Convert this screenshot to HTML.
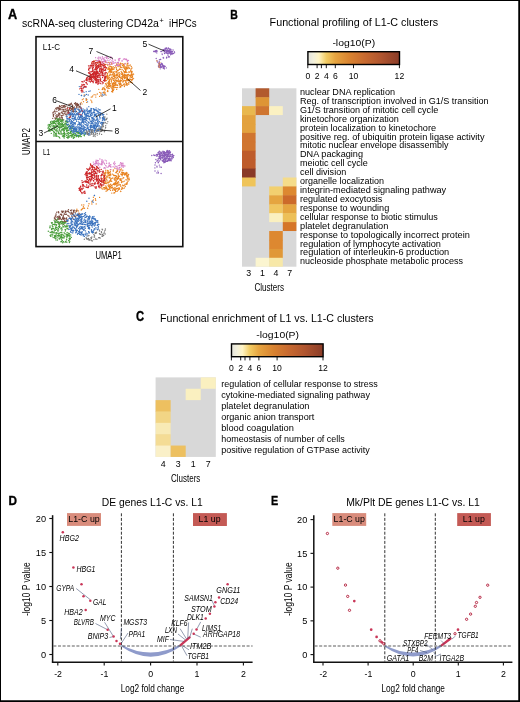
<!DOCTYPE html>
<html><head><meta charset="utf-8"><style>
html,body{margin:0;padding:0;background:#fff;}
svg{display:block;font-family:"Liberation Sans", sans-serif;will-change:transform;}
</style></head><body>
<svg width="520" height="702" viewBox="0 0 520 702">
<rect width="520" height="702" fill="#fff"/>
<rect x="0.5" y="0.5" width="518.5" height="700.5" fill="none" stroke="#000" stroke-width="1"/>
<rect x="518.5" y="0" width="1.5" height="702" fill="#000"/>
<rect x="0" y="700.5" width="520" height="1.5" fill="#000"/>
<text x="7.90" y="18.70" font-size="13.8" textLength="9.20" lengthAdjust="spacingAndGlyphs" font-weight="bold" fill="#000" stroke="#000" stroke-width="0.35">A</text>
<text x="22.00" y="26.70" font-size="10" textLength="136.90" lengthAdjust="spacingAndGlyphs">scRNA-seq clustering CD42a</text>
<text x="159.60" y="22.60" font-size="7.2" textLength="4.20" lengthAdjust="spacingAndGlyphs">+</text>
<text x="169.00" y="26.70" font-size="10" textLength="27.60" lengthAdjust="spacingAndGlyphs">iHPCs</text>
<path d="M73.0 110.6h0M62.9 119.4h0M54.7 110.1h0M66.5 114.2h0M58.7 108.5h0M68.9 104.3h0M56.4 108.1h0M70.7 115.3h0M71.1 104.2h0M62.3 115.4h0M72.2 106.5h0M58.5 114.2h0M70.4 110.6h0M76.1 105.0h0M76.1 108.2h0M58.6 108.5h0M69.8 109.4h0M52.7 118.3h0M65.9 114.3h0M62.3 118.7h0M59.7 109.5h0M60.8 118.8h0M59.6 106.3h0M69.1 104.9h0M55.9 118.2h0M58.2 108.2h0M73.4 109.9h0M77.1 105.6h0M76.7 106.5h0M58.3 120.1h0M66.2 104.8h0M63.4 107.1h0M78.6 105.1h0M60.0 117.5h0M69.7 108.7h0M57.4 119.1h0M55.2 113.6h0M62.6 107.7h0M61.9 109.6h0M57.3 108.1h0M72.1 109.7h0M74.3 106.9h0M72.8 107.1h0M62.2 109.9h0M72.5 105.5h0M73.7 107.9h0M56.1 118.5h0M75.3 103.9h0M72.6 111.4h0M65.9 112.0h0M75.6 102.7h0M61.2 112.6h0M69.7 107.6h0M64.9 106.8h0M59.0 107.2h0M62.1 119.5h0M61.7 117.4h0M57.0 114.6h0M63.9 106.8h0M58.1 115.7h0M62.1 111.7h0M55.7 115.8h0M55.3 111.9h0M72.5 107.8h0M53.4 116.5h0M58.8 113.3h0M58.0 116.2h0M62.7 105.8h0M63.0 113.7h0M70.3 113.4h0M67.9 112.4h0M70.2 104.0h0M65.9 106.3h0M76.5 111.5h0M67.9 111.1h0M80.1 106.5h0M69.8 109.4h0M63.6 111.0h0M77.1 103.3h0M62.2 113.0h0M71.7 109.4h0M74.1 111.4h0M63.2 113.8h0M70.1 110.3h0M55.8 118.8h0M68.0 107.5h0M59.9 113.7h0M70.3 104.5h0M76.7 104.9h0M55.2 118.2h0M76.4 105.2h0M60.4 109.7h0M58.7 107.7h0M57.0 117.2h0M56.0 108.2h0M74.5 103.5h0M55.6 119.2h0M58.7 110.3h0M56.0 118.1h0M61.0 115.6h0M61.7 105.6h0M77.6 104.6h0M73.0 110.1h0M79.1 109.4h0M58.9 119.0h0M56.8 109.6h0M65.1 109.3h0M73.0 108.5h0M58.9 112.9h0M63.9 106.8h0M61.7 116.0h0M71.4 109.1h0M67.2 110.0h0M64.3 105.4h0M65.9 110.8h0M61.5 107.7h0M62.3 117.4h0M54.8 111.4h0M57.3 107.3h0M63.7 105.8h0M72.2 104.9h0M71.4 103.2h0M63.2 106.1h0M80.4 107.6h0M72.2 109.7h0M53.4 114.8h0M70.7 107.6h0M76.3 103.9h0M68.2 113.3h0M70.9 108.4h0M76.6 106.9h0M64.9 107.7h0M67.1 114.2h0M76.1 104.6h0M53.8 111.9h0M77.1 107.2h0M72.2 108.5h0M63.1 119.9h0M53.4 115.3h0M53.0 113.8h0M59.2 108.1h0M59.5 105.7h0M59.7 114.2h0M79.3 106.6h0M59.8 109.0h0M56.8 114.9h0M58.1 119.7h0M80.3 104.7h0M57.3 116.4h0M72.7 105.7h0M59.5 117.1h0M67.7 107.2h0M62.6 119.3h0M56.9 111.5h0M56.6 116.3h0M63.7 111.6h0M59.7 119.8h0M60.7 106.3h0M53.0 112.5h0M68.5 111.2h0M63.3 109.4h0M64.0 110.1h0M59.9 114.3h0M80.3 103.3h0M71.7 114.3h0M59.5 113.7h0M73.6 109.9h0M72.8 108.2h0M59.1 115.3h0M66.3 115.9h0M68.7 112.0h0M56.8 118.0h0M78.4 104.5h0M77.9 105.5h0M55.7 108.7h0M64.7 105.7h0M72.8 111.2h0M75.6 105.1h0M68.1 107.6h0M58.9 113.4h0M74.4 108.3h0M77.4 103.7h0M58.8 109.8h0M65.9 109.1h0M65.2 114.1h0M64.6 113.2h0M63.7 115.1h0M75.0 109.7h0M67.0 110.7h0M64.8 111.7h0M73.5 111.9h0M54.9 117.9h0M53.8 114.6h0M53.3 115.8h0M79.0 106.2h0M60.6 108.1h0M68.6 110.7h0M78.9 107.7h0M68.3 109.8h0" stroke="#7e4c40" stroke-width="1.32" stroke-linecap="round" fill="none"/>
<path d="M60.6 121.0h0M69.4 125.7h0M50.3 127.0h0M64.8 135.1h0M71.6 137.0h0M53.7 121.5h0M55.1 129.4h0M50.7 121.7h0M59.9 130.1h0M78.4 133.0h0M68.2 135.3h0M64.7 134.0h0M50.2 130.8h0M74.1 129.8h0M67.2 131.9h0M63.8 131.7h0M55.9 120.8h0M52.6 123.9h0M50.5 126.8h0M79.1 136.2h0M62.4 135.9h0M55.3 123.5h0M48.3 127.1h0M67.8 130.4h0M83.0 133.1h0M64.0 126.7h0M56.4 121.5h0M53.7 125.6h0M57.9 125.3h0M66.3 128.0h0M61.6 123.1h0M69.0 137.2h0M59.0 126.4h0M68.4 134.2h0M80.9 133.5h0M57.1 128.7h0M49.7 124.7h0M57.1 123.1h0M72.3 135.7h0M73.8 134.7h0M82.6 133.2h0M54.8 135.0h0M63.6 136.9h0M54.3 120.5h0M55.0 134.7h0M61.8 129.3h0M67.2 137.5h0M58.1 124.8h0M59.3 127.5h0M60.8 126.7h0M63.7 136.6h0M66.2 121.8h0M55.0 126.9h0M59.9 128.2h0M52.7 129.9h0M70.2 133.1h0M70.6 128.2h0M64.2 129.1h0M75.2 135.6h0M69.7 136.9h0M53.6 127.2h0M51.7 130.4h0M54.3 132.3h0M64.7 127.9h0M54.2 126.8h0M56.0 124.4h0M69.9 127.1h0M73.6 129.1h0M53.6 123.7h0M57.6 121.3h0M70.2 132.4h0M73.4 134.9h0M64.3 124.5h0M58.3 120.6h0M53.2 121.5h0M60.4 123.8h0M67.3 121.8h0M56.0 127.6h0M66.6 135.4h0M61.3 134.1h0M64.1 125.2h0M51.3 133.4h0M59.0 123.6h0M54.4 128.6h0M60.8 125.3h0M66.6 128.9h0M52.2 126.2h0M59.4 122.4h0M76.4 130.2h0M63.6 124.7h0M76.8 131.4h0M76.5 135.1h0M67.9 133.9h0M70.1 135.3h0M54.6 126.1h0M68.9 130.1h0M77.7 133.2h0M51.4 123.1h0M66.2 125.9h0M54.2 122.7h0M50.5 122.7h0M67.7 127.5h0M50.0 125.9h0M65.8 124.9h0M57.0 130.4h0M57.2 136.2h0M48.3 128.2h0M53.5 126.1h0M63.4 126.0h0M62.1 126.9h0M59.4 137.5h0M63.4 136.7h0M72.9 136.3h0M76.7 131.3h0M66.0 126.0h0M69.7 126.4h0M56.0 136.4h0M65.6 121.2h0M61.5 120.4h0M69.9 135.4h0M63.7 129.1h0M51.3 123.6h0M67.7 130.5h0M58.3 123.5h0M84.4 135.2h0M63.8 135.8h0M51.9 121.1h0M72.1 133.8h0M52.9 122.5h0M67.9 130.2h0M60.8 127.2h0M58.4 122.9h0M59.3 118.5h0M63.7 122.1h0M61.1 126.2h0M78.0 133.0h0M56.5 134.9h0M67.3 122.5h0M73.9 137.7h0M51.9 125.3h0M62.7 124.8h0M59.4 125.1h0M62.3 134.1h0M49.6 128.6h0M56.0 125.4h0M64.0 134.3h0M76.3 136.7h0M58.3 133.0h0M58.9 127.3h0M62.5 123.5h0M79.1 132.1h0M60.7 125.2h0M56.1 133.5h0M49.2 130.8h0M59.2 120.2h0M56.8 125.9h0M76.4 134.9h0M69.8 125.2h0M58.6 124.1h0M67.9 122.0h0M67.1 133.5h0M50.5 124.3h0M58.7 133.7h0M71.1 131.2h0M53.9 123.0h0M49.0 124.4h0M60.6 121.5h0M63.3 129.0h0M54.4 132.4h0M59.9 138.1h0M63.4 125.0h0M62.2 121.7h0M63.5 135.4h0M66.6 121.5h0M73.3 136.9h0M62.8 128.7h0M68.7 137.2h0M57.6 120.1h0M64.0 134.9h0M56.3 126.1h0M53.1 121.8h0M50.2 129.3h0M70.7 128.8h0M63.6 130.3h0M66.2 127.1h0M67.0 121.8h0M65.5 121.8h0M54.0 127.2h0M75.9 133.8h0M67.8 125.6h0M76.6 136.2h0M67.4 137.2h0M78.6 137.1h0M67.6 137.1h0M67.9 124.6h0M74.6 137.1h0M52.6 128.4h0M71.8 137.1h0M61.8 133.7h0M70.5 131.5h0M70.4 126.7h0M53.6 122.6h0M49.2 125.6h0M56.7 129.7h0M72.9 128.7h0M58.5 121.6h0M80.8 134.2h0M48.6 130.9h0M58.7 136.6h0M64.8 123.3h0M49.5 129.1h0M55.3 130.3h0M61.4 124.5h0M79.1 132.6h0M57.1 120.4h0M60.8 132.2h0M69.5 126.2h0M59.0 131.0h0M58.4 121.4h0M57.0 135.8h0M65.8 133.9h0M64.5 132.5h0M57.8 131.3h0M61.7 121.0h0M74.2 130.0h0M50.4 130.9h0M80.4 136.6h0M52.8 122.4h0M79.6 133.7h0M61.1 126.7h0M58.9 132.9h0M48.9 126.8h0M61.2 132.2h0M47.8 128.1h0M54.9 129.0h0M59.1 121.8h0M53.7 131.5h0M74.3 133.6h0M63.9 125.9h0M57.0 123.0h0M62.9 136.6h0M68.5 132.5h0M62.3 125.7h0M73.7 133.7h0M53.7 127.1h0M55.5 123.1h0M54.5 121.8h0M61.9 121.8h0M53.6 125.8h0M56.3 131.2h0M63.3 133.4h0M72.8 128.1h0M64.3 132.7h0M69.7 133.4h0M75.8 135.0h0M60.9 131.2h0M77.6 132.2h0M64.1 126.9h0M74.2 137.7h0M67.7 138.0h0M55.4 133.6h0M51.5 129.5h0M68.2 130.4h0M64.2 138.1h0M64.6 134.7h0M61.9 119.8h0M48.4 127.0h0M62.0 124.4h0M56.5 134.6h0M53.8 133.0h0M66.4 131.0h0M62.3 130.0h0M65.9 124.0h0M62.4 123.4h0M59.0 123.7h0M64.4 130.5h0M84.4 135.8h0M83.2 134.8h0M52.6 122.0h0M62.5 120.6h0M70.8 132.8h0M78.4 135.9h0M67.3 133.6h0M57.2 120.9h0M65.4 121.1h0M70.0 135.6h0M65.6 128.5h0M62.9 126.5h0M73.3 131.1h0M73.3 138.4h0M67.9 127.8h0M74.9 131.7h0M61.3 127.5h0M55.9 127.2h0M65.9 123.5h0M72.9 134.6h0M59.2 129.2h0M50.9 124.2h0M73.9 133.6h0M71.4 130.0h0M77.3 136.1h0M79.0 133.8h0M59.7 127.2h0M73.4 137.2h0M48.0 125.1h0M63.8 119.8h0M75.3 135.1h0M70.8 132.8h0M49.3 131.0h0M60.9 133.9h0M61.6 130.1h0M53.5 134.9h0M64.1 133.6h0M74.5 135.5h0M84.7 134.6h0M64.0 136.7h0M71.3 135.7h0M65.0 128.8h0M78.5 135.4h0M79.9 133.2h0M60.6 119.5h0M56.6 133.1h0M70.9 131.9h0M58.4 132.6h0M70.9 135.7h0M66.6 130.4h0M54.9 132.8h0M63.8 128.7h0M52.7 130.5h0M84.7 132.2h0M58.3 119.2h0M68.1 136.1h0M72.1 127.2h0M57.3 128.3h0M67.2 120.9h0M59.3 124.5h0M77.0 131.0h0M76.6 136.6h0M71.2 133.7h0M57.9 120.7h0M57.6 120.9h0M81.4 136.6h0M65.9 124.4h0M56.8 118.5h0M54.0 136.3h0M54.8 123.1h0M54.4 129.2h0M66.5 124.3h0M52.5 123.8h0M56.0 126.7h0M55.3 133.3h0M71.3 128.5h0M71.8 131.7h0M56.2 118.8h0M80.0 135.6h0M55.4 135.2h0M63.3 130.1h0M66.0 129.2h0M78.7 136.4h0M64.1 133.7h0M67.7 128.8h0M55.5 121.3h0M48.7 129.9h0M81.4 132.7h0M67.1 128.5h0M62.8 120.2h0M54.2 129.3h0M63.6 126.0h0M63.5 136.6h0M56.1 125.5h0M79.2 135.5h0M52.0 128.2h0M57.6 126.2h0M65.2 128.3h0M85.7 133.5h0M79.0 135.9h0M68.6 136.5h0M68.6 126.7h0M60.7 131.7h0M58.4 127.4h0M53.2 121.3h0M60.1 123.4h0M70.3 132.1h0M65.4 128.7h0M60.4 123.7h0M63.6 130.0h0M69.1 129.8h0M59.8 133.9h0M50.1 126.3h0M53.7 122.4h0M53.9 125.6h0M72.0 134.6h0M76.3 132.4h0M78.2 132.3h0M66.7 137.3h0M77.5 135.4h0M65.5 126.9h0M62.9 129.7h0M77.4 135.3h0M56.1 124.9h0M80.6 134.9h0M64.8 136.5h0M70.7 127.6h0M68.1 138.2h0" stroke="#4a9e3c" stroke-width="1.32" stroke-linecap="round" fill="none"/>
<path d="M88.8 116.9h0M102.3 122.7h0M86.2 118.3h0M76.4 130.0h0M95.9 123.9h0M83.9 131.6h0M91.0 108.5h0M89.9 111.9h0M96.7 120.2h0M77.6 112.8h0M101.9 113.1h0M82.1 126.7h0M93.5 111.9h0M77.0 113.4h0M88.3 111.2h0M99.2 109.9h0M80.6 108.8h0M75.2 122.6h0M94.2 118.8h0M100.0 109.7h0M102.4 122.3h0M95.4 120.8h0M84.2 130.5h0M76.8 131.4h0M88.5 135.0h0M91.2 109.2h0M76.1 128.6h0M77.4 109.1h0M86.9 128.5h0M68.0 121.9h0M70.8 123.6h0M92.5 113.0h0M79.4 129.9h0M85.8 122.4h0M71.8 121.9h0M73.8 118.7h0M74.1 131.2h0M84.2 128.6h0M75.2 128.2h0M66.7 118.0h0M87.6 113.1h0M93.7 109.8h0M90.3 125.8h0M97.6 119.9h0M102.4 118.7h0M75.4 127.1h0M79.5 111.5h0M84.9 119.6h0M95.5 125.5h0M99.7 129.4h0M80.5 111.6h0M95.7 109.8h0M101.7 126.8h0M89.4 118.3h0M100.6 115.3h0M75.8 130.7h0M82.5 113.8h0M91.8 127.4h0M97.9 125.6h0M81.1 108.8h0M79.8 122.7h0M97.1 118.4h0M78.3 114.1h0M90.5 115.6h0M92.7 118.5h0M71.8 126.3h0M73.7 114.6h0M73.7 130.9h0M82.0 120.8h0M98.3 111.7h0M83.7 130.0h0M70.4 121.9h0M81.4 132.2h0M67.5 124.9h0M79.7 125.0h0M86.9 125.4h0M81.2 134.4h0M91.6 122.9h0M100.7 127.1h0M79.9 110.7h0M71.5 123.3h0M81.0 127.4h0M95.1 115.1h0M96.2 126.9h0M93.5 126.6h0M88.5 129.4h0M71.7 121.2h0M94.6 112.2h0M79.1 117.5h0M73.7 115.6h0M78.8 119.6h0M81.8 117.8h0M72.8 132.6h0M90.6 129.0h0M94.6 119.9h0M94.4 115.9h0M86.3 114.9h0M97.3 124.0h0M77.0 114.3h0M94.4 126.4h0M69.4 114.5h0M90.8 125.7h0M79.5 117.5h0M72.5 131.0h0M92.4 132.4h0M67.4 118.6h0M91.3 123.6h0M76.9 129.3h0M71.9 125.0h0M94.2 128.8h0M70.9 125.8h0M75.8 108.5h0M76.7 113.4h0M97.1 116.9h0M99.5 116.2h0M72.0 115.1h0M88.7 129.7h0M69.9 113.1h0M79.1 123.9h0M74.4 129.6h0M66.9 121.2h0M90.0 126.8h0M86.1 124.6h0M103.6 116.3h0M83.7 111.2h0M93.3 120.1h0M82.0 116.0h0M86.4 120.2h0M72.8 114.2h0M94.5 127.2h0M94.0 125.1h0M72.9 124.6h0M80.0 131.3h0M70.2 128.9h0M84.7 130.0h0M88.0 121.7h0M104.1 118.7h0M97.6 130.4h0M74.3 123.4h0M98.1 128.9h0M101.1 122.2h0M89.4 131.6h0M74.5 113.6h0M70.3 123.8h0M83.1 122.6h0M83.1 109.0h0M83.9 117.4h0M75.1 124.5h0M89.4 110.8h0M75.2 117.0h0M90.9 127.7h0M75.5 133.7h0M102.6 124.6h0M96.4 110.0h0M73.6 130.0h0M71.1 128.0h0M86.8 129.8h0M89.3 129.3h0M87.2 115.3h0M98.0 129.6h0M91.0 113.1h0M103.8 122.5h0M94.6 130.4h0M80.3 115.3h0M89.6 134.0h0M92.3 123.6h0M81.1 123.0h0M95.5 128.5h0M91.4 131.1h0M83.2 127.2h0M80.1 116.6h0M95.3 115.4h0M79.0 127.2h0M97.8 122.6h0M77.7 125.0h0M85.3 124.8h0M81.3 130.9h0M69.2 114.4h0M72.5 118.5h0M95.0 128.4h0M75.0 114.2h0M88.2 124.7h0M77.9 109.1h0M80.6 111.7h0M76.8 128.6h0M77.6 117.9h0M94.8 109.7h0M98.9 112.6h0M92.5 114.9h0M91.4 123.1h0M103.8 117.2h0M80.8 127.9h0M75.5 117.3h0M75.5 129.7h0M95.9 113.8h0M80.5 116.8h0M91.8 130.4h0M82.1 110.7h0M84.7 112.7h0M80.8 119.9h0M68.8 112.6h0M100.1 110.1h0M75.6 111.7h0M69.8 114.3h0M93.9 109.5h0M73.8 125.7h0M104.3 120.6h0M92.1 121.5h0M94.9 122.7h0M90.2 126.0h0M99.7 117.2h0M75.0 123.5h0M83.4 112.1h0M88.0 133.6h0M73.6 120.3h0M84.8 134.2h0M99.1 112.8h0M78.0 119.2h0M67.5 118.5h0M75.2 119.4h0M72.5 114.9h0M86.5 123.1h0M74.5 111.6h0M81.3 130.6h0M103.8 114.4h0M78.5 115.0h0M83.0 120.9h0M91.8 121.7h0M92.0 122.1h0M88.0 111.8h0M74.3 117.2h0M68.4 127.1h0M92.8 129.3h0M92.1 126.4h0M75.5 119.0h0M82.3 133.4h0M94.1 116.3h0M71.1 113.9h0M82.5 119.2h0M102.1 123.8h0M82.9 112.1h0M91.2 112.8h0M95.3 129.5h0M73.5 128.7h0M98.7 122.8h0M89.6 112.8h0M94.3 114.8h0M73.2 126.4h0M76.4 126.8h0M78.8 122.2h0M84.9 114.5h0M90.2 127.4h0M94.0 116.7h0M102.5 122.8h0M92.9 117.4h0M97.7 129.7h0M73.8 125.7h0M74.6 109.2h0M71.1 112.4h0M90.6 114.5h0M87.7 127.3h0M74.0 114.6h0M90.1 132.5h0M92.0 114.8h0M95.7 128.5h0M96.5 116.7h0M68.3 124.1h0M87.1 110.9h0M84.5 113.2h0M86.1 116.5h0M96.7 110.5h0M84.6 113.9h0M78.1 119.4h0M81.7 118.9h0M89.2 110.4h0M70.6 119.7h0M96.5 119.6h0M68.0 114.9h0M72.6 121.6h0M72.3 128.5h0M71.1 113.9h0M77.1 126.8h0M84.0 133.2h0M84.1 126.6h0M69.9 130.0h0M76.3 120.1h0M99.7 117.0h0M78.3 113.0h0M100.6 123.1h0M90.1 131.8h0M98.9 130.3h0M80.4 117.2h0M74.1 132.7h0M100.6 129.3h0M94.5 127.6h0M91.7 117.5h0M87.2 116.0h0M99.1 130.3h0M93.5 125.5h0M86.8 120.7h0M96.6 131.7h0M75.6 110.2h0M97.2 113.6h0M94.2 112.9h0M78.6 124.2h0M100.5 128.5h0M87.3 109.6h0M85.1 121.2h0M91.5 113.4h0M66.5 123.9h0M81.6 109.7h0M96.9 118.0h0M98.6 112.0h0M82.5 116.4h0M73.4 116.4h0M72.4 122.3h0M97.6 111.9h0M94.7 132.1h0M86.8 131.0h0M85.6 132.7h0M89.8 129.7h0M75.4 115.2h0M84.8 109.9h0M93.9 128.3h0M85.1 111.3h0M73.7 122.4h0M93.5 127.9h0M102.9 119.5h0M97.4 126.4h0M79.1 128.7h0M71.9 118.2h0M72.6 113.5h0M78.6 121.8h0M81.7 134.1h0M84.1 112.5h0M81.2 117.3h0M93.6 119.0h0M88.8 106.7h0M80.3 124.3h0M82.0 115.2h0M72.3 116.5h0M88.2 127.1h0M87.5 118.6h0M66.3 116.2h0M79.7 132.4h0M101.6 124.9h0M81.2 123.5h0M79.5 118.9h0M86.4 115.8h0M72.6 126.3h0M72.2 113.7h0M95.8 126.3h0M88.6 133.3h0M82.9 111.4h0M81.7 109.1h0M89.4 134.1h0M93.8 124.8h0M72.3 122.6h0M82.9 118.4h0M93.6 112.4h0M80.3 127.8h0M91.5 108.6h0M89.0 119.1h0M80.2 117.7h0M101.8 123.0h0M82.0 126.3h0M97.6 121.4h0M81.2 125.2h0M83.2 133.2h0M89.6 116.3h0M97.6 129.7h0M78.3 128.9h0M71.7 130.8h0M70.6 127.6h0M89.0 118.9h0M96.2 110.4h0M99.8 118.9h0M95.0 125.5h0M93.8 112.8h0M82.4 131.8h0M83.0 122.0h0M82.6 131.8h0M84.4 110.2h0M93.2 108.7h0M94.4 110.5h0M76.4 129.8h0M83.9 119.2h0M79.5 133.2h0M98.0 111.2h0M79.7 111.5h0M96.9 113.9h0M102.3 123.9h0M90.9 121.4h0M97.3 125.6h0M85.3 129.5h0M71.7 125.8h0M71.8 111.2h0M75.5 117.0h0M89.4 111.4h0M72.0 123.1h0M87.7 116.0h0M70.3 114.5h0M79.6 132.8h0M99.0 126.3h0M77.7 135.5h0M87.2 112.9h0M98.0 124.4h0M68.4 118.9h0M87.0 108.2h0M89.3 129.9h0M74.1 130.9h0M75.9 131.4h0M103.5 118.2h0M70.3 128.1h0M82.0 124.9h0M91.3 111.0h0M80.0 132.3h0M71.2 110.8h0M71.5 120.7h0M82.3 122.2h0M82.5 113.3h0M98.6 114.3h0M81.1 116.1h0M91.4 130.4h0M102.0 124.1h0M69.9 116.8h0M81.1 115.6h0M75.3 112.0h0M101.1 126.8h0M99.4 125.8h0M68.1 121.4h0M94.5 126.9h0M91.9 118.9h0M74.7 118.5h0M78.8 114.2h0M81.3 126.3h0M70.1 122.1h0M69.5 121.1h0M92.2 120.4h0M84.1 111.2h0M91.2 125.6h0M97.1 110.6h0M88.1 127.9h0M80.0 128.5h0M70.1 126.6h0M72.0 130.9h0M81.0 125.7h0M80.3 131.3h0M100.5 123.3h0M103.1 123.5h0M84.3 117.1h0M88.8 114.1h0M85.4 118.4h0M86.8 113.9h0M96.4 122.8h0M85.7 118.2h0M92.6 129.8h0M74.0 120.1h0M79.9 127.6h0M74.6 128.0h0M90.7 126.5h0M102.7 120.3h0M97.1 113.8h0M96.4 127.5h0M76.2 119.4h0M82.5 120.3h0M72.9 113.0h0M99.9 115.4h0M82.7 112.0h0M82.7 117.9h0M66.7 118.0h0M80.0 128.9h0M91.2 112.6h0M90.1 116.5h0M100.7 113.3h0M78.1 124.5h0M70.5 113.7h0M81.4 133.2h0M75.4 131.6h0M81.0 107.3h0M74.7 128.8h0M68.2 118.6h0M95.7 130.2h0M97.0 111.2h0M69.5 120.0h0M79.9 119.1h0M93.7 121.4h0M85.0 121.7h0M73.8 131.8h0M89.9 123.0h0M103.8 118.0h0M86.1 117.3h0M79.7 118.6h0M81.2 111.0h0M83.5 119.5h0M83.1 130.8h0M91.9 121.0h0M72.6 124.5h0M90.8 110.8h0M85.5 115.8h0M85.1 124.6h0M91.6 121.6h0M87.2 113.8h0M87.6 128.4h0M91.3 110.1h0M94.5 114.3h0M99.5 121.7h0M82.8 129.4h0M100.0 112.5h0M67.2 116.6h0M90.5 111.0h0M77.8 131.8h0M104.6 118.9h0M95.6 114.3h0M87.7 123.8h0M93.4 119.4h0M77.2 127.3h0M93.1 118.6h0M102.4 117.3h0M94.7 131.6h0M79.2 126.8h0M87.0 111.2h0M86.0 129.8h0M80.1 129.8h0M90.2 121.1h0M75.5 119.3h0M75.1 129.8h0M90.4 110.2h0M99.1 127.9h0M83.4 125.6h0M69.6 118.6h0M74.3 131.3h0M73.4 123.8h0M85.8 119.3h0M95.4 122.8h0M96.3 115.3h0M87.8 125.6h0M68.4 124.6h0M88.3 128.1h0M75.7 109.9h0M84.8 114.8h0M80.4 128.6h0M78.5 109.3h0M81.6 133.1h0M85.0 119.8h0M98.6 120.9h0M100.3 117.8h0M84.0 123.8h0M80.4 131.4h0M90.8 124.1h0M70.9 114.6h0M73.5 124.2h0M66.5 120.1h0M78.9 110.4h0M95.7 115.4h0M71.8 127.9h0M79.8 112.7h0M81.6 110.6h0M103.2 118.0h0M103.0 115.2h0M81.2 128.3h0M67.9 119.3h0M83.1 128.5h0M87.4 118.5h0M75.1 122.7h0M83.0 133.1h0M93.9 108.9h0M78.3 127.0h0M71.3 120.3h0M69.2 112.6h0M97.9 119.2h0M95.4 109.8h0M89.4 131.1h0M92.9 122.9h0M84.9 112.6h0M88.6 116.3h0M85.8 114.0h0M85.2 127.5h0M102.0 114.7h0M75.7 129.4h0M98.5 123.2h0M72.5 114.1h0M84.7 127.4h0M69.5 119.6h0M102.8 118.3h0M92.7 127.1h0M88.7 122.8h0M104.8 119.7h0M95.9 126.5h0M100.4 114.0h0M78.5 116.3h0M99.0 125.9h0M88.0 113.3h0M72.2 128.1h0M78.6 131.0h0M84.1 117.8h0M69.3 126.4h0M76.1 115.0h0M71.8 130.7h0M96.4 126.0h0M71.9 122.7h0M72.5 126.2h0M91.4 123.2h0M88.6 116.0h0M69.6 115.1h0M92.1 125.1h0M83.4 119.4h0M70.4 123.9h0M92.8 132.0h0M87.1 115.8h0M83.1 128.8h0M69.6 119.8h0M81.0 134.1h0M96.4 123.9h0M84.7 117.6h0M79.0 123.9h0M81.9 128.7h0M98.5 123.3h0M80.8 114.3h0M86.5 117.6h0M70.2 126.6h0M71.7 122.4h0M96.1 107.9h0M77.3 131.4h0M75.3 123.5h0M95.2 124.8h0M102.8 122.4h0M83.7 120.9h0M89.8 119.8h0M91.3 129.8h0M74.0 126.5h0M79.7 123.1h0M102.4 114.0h0M79.8 130.0h0M85.8 133.9h0M81.6 122.2h0M79.2 111.9h0M94.0 124.0h0M86.2 110.2h0M98.7 113.6h0M98.2 108.9h0M91.2 130.1h0M77.7 125.0h0M88.0 115.6h0M71.6 130.6h0M93.9 126.5h0M96.2 116.0h0M96.2 119.8h0M70.4 116.6h0M69.6 128.4h0M68.6 113.0h0M82.5 119.7h0M75.2 127.9h0M87.1 126.9h0M77.4 114.6h0M79.2 114.4h0M85.9 117.0h0M83.8 122.5h0M75.0 110.1h0M72.8 119.1h0M81.3 129.9h0M70.7 123.4h0M91.2 115.7h0M84.5 119.4h0M102.4 120.3h0M102.3 124.4h0M98.2 130.6h0M73.7 128.0h0M73.6 129.0h0M79.5 118.1h0M102.6 124.9h0M68.1 121.2h0M103.8 119.1h0M88.6 122.4h0M76.7 121.4h0M88.2 113.1h0M90.2 90.9h0M79.3 86.6h0M86.5 94.4h0M83.3 87.3h0M88.9 91.4h0M85.1 87.3h0M86.2 91.7h0M88.2 95.0h0M87.6 101.8h0M86.4 98.9h0M84.0 96.1h0M84.3 96.2h0M81.3 95.5h0M85.1 95.2h0M81.6 95.5h0M79.0 94.4h0M84.0 92.3h0M102.8 92.8h0M104.9 94.3h0M102.0 96.0h0M102.2 94.7h0M103.8 95.2h0" stroke="#3a72be" stroke-width="1.32" stroke-linecap="round" fill="none"/>
<path d="M93.3 130.7h0M99.4 129.8h0M103.6 122.9h0M103.2 126.2h0M91.0 132.4h0M104.9 130.5h0M92.1 130.0h0M107.8 121.7h0M88.8 130.7h0M101.7 128.0h0M102.2 127.1h0M91.7 133.1h0M101.8 128.8h0M96.0 133.8h0M105.8 119.6h0M102.1 130.8h0M102.7 126.0h0M87.9 133.2h0M96.8 129.1h0M95.1 136.5h0M99.6 133.1h0M103.1 123.6h0M93.3 136.3h0M104.1 117.2h0M87.9 131.5h0M102.6 130.5h0M95.8 130.6h0M92.8 131.7h0M86.5 132.2h0M101.1 129.7h0M105.3 122.5h0M106.6 119.3h0M105.4 128.1h0M95.1 134.8h0M87.9 134.1h0M105.1 123.1h0M97.4 133.4h0M106.9 123.5h0M101.5 131.4h0M99.0 131.3h0M104.3 131.5h0M101.0 129.3h0M105.7 127.2h0M96.1 130.3h0M100.5 131.4h0M91.1 130.5h0M86.2 131.0h0M90.7 134.1h0M95.5 132.6h0M93.1 134.6h0M105.7 125.6h0M91.6 131.4h0M95.3 134.2h0M101.6 134.4h0M89.9 135.3h0M87.5 134.1h0M89.4 131.8h0M102.8 130.0h0M103.5 126.7h0M105.8 120.1h0M99.7 129.2h0M95.0 134.8h0M99.1 128.1h0M98.3 129.3h0M86.5 132.2h0M91.7 132.3h0M100.5 131.5h0M93.5 133.4h0M102.8 124.6h0M87.0 133.7h0M101.6 130.1h0M102.1 129.3h0M87.5 132.4h0M97.2 129.8h0M104.3 130.3h0M91.5 132.9h0M102.9 124.9h0M87.3 134.4h0M100.8 126.9h0M106.8 114.2h0M97.6 131.3h0M105.2 130.6h0M91.6 134.2h0M90.9 129.9h0M93.1 132.7h0M96.4 131.2h0M93.9 135.2h0M107.1 118.2h0M101.8 128.2h0M104.3 131.8h0M91.5 129.9h0M86.9 133.5h0M88.1 134.6h0M105.0 117.0h0M97.3 135.1h0M106.2 118.9h0M99.4 134.1h0M91.5 132.0h0" stroke="#7a7a7a" stroke-width="1.32" stroke-linecap="round" fill="none"/>
<path d="M167.8 53.2h0M168.0 53.5h0M164.3 51.6h0M164.6 51.2h0M164.9 50.3h0M167.5 51.2h0M166.6 47.9h0M164.1 50.7h0M171.8 52.3h0M168.8 51.8h0M166.5 53.2h0M165.8 52.2h0M173.2 53.3h0M171.1 51.9h0M168.6 50.5h0M171.5 53.5h0M169.4 49.2h0M166.1 51.5h0M170.8 52.1h0M170.0 52.9h0M170.0 49.2h0M164.5 53.5h0M166.0 48.5h0M165.8 52.9h0M171.0 49.4h0M173.0 49.8h0M169.0 49.9h0M169.7 52.1h0M163.9 49.5h0M174.6 52.7h0M165.4 49.8h0M167.7 53.5h0M168.4 47.8h0M167.8 53.8h0M168.9 50.3h0M166.3 48.7h0M173.2 50.1h0M166.7 51.9h0M172.4 53.2h0M166.5 50.6h0M174.3 51.6h0M167.5 51.2h0M165.5 48.7h0M164.3 51.9h0M165.9 51.8h0M170.3 53.8h0M168.2 53.3h0M167.4 50.8h0M169.6 51.1h0M167.9 51.2h0M170.6 54.8h0M168.9 51.7h0M169.9 51.8h0M170.7 49.9h0M172.4 51.4h0M170.3 51.4h0M168.9 50.1h0M167.0 48.5h0M168.5 48.3h0M169.0 50.8h0M166.7 52.1h0M169.7 50.7h0M163.9 50.8h0M168.8 48.4h0M164.4 49.1h0M167.5 50.3h0M167.3 49.8h0M171.5 51.5h0M167.1 49.2h0M169.1 53.2h0M170.4 52.7h0M165.3 48.1h0M172.7 54.0h0M170.0 53.2h0M164.7 50.6h0M170.4 49.1h0M171.2 50.9h0M168.0 51.9h0M171.5 54.0h0M165.8 50.3h0M173.6 53.4h0M169.6 49.1h0M169.2 52.5h0M155.7 51.2h0M157.1 51.3h0M156.8 52.9h0M155.9 51.2h0M155.3 50.7h0M156.4 51.2h0M155.0 51.8h0M153.9 51.1h0M155.9 51.3h0M154.2 51.3h0M155.9 51.8h0M156.6 50.3h0M157.1 51.0h0M153.6 51.6h0M161.9 51.6h0M160.9 51.5h0M162.8 49.9h0M163.3 50.3h0M163.0 49.6h0M166.8 57.7h0M163.3 58.0h0M166.6 57.1h0M163.6 58.0h0M168.0 55.6h0M163.2 57.5h0M166.5 58.0h0M169.5 56.9h0M168.0 54.3h0M169.0 56.7h0M162.1 53.8h0M162.2 54.5h0M168.4 57.0h0M163.4 65.3h0M159.7 66.8h0M163.7 68.2h0M160.1 66.4h0M164.2 67.6h0M160.1 66.7h0M164.8 66.4h0M160.4 65.0h0M163.9 66.8h0M164.8 66.3h0M161.2 64.0h0M163.7 67.1h0M160.0 64.1h0M159.9 67.4h0M166.3 67.9h0M162.7 66.4h0M164.4 68.9h0M162.5 64.5h0M162.2 63.8h0M161.6 67.3h0M165.2 66.4h0M160.7 65.9h0M158.6 66.9h0M163.7 66.6h0M161.4 66.3h0M160.3 67.4h0M159.9 65.6h0M163.5 67.7h0M160.2 68.8h0M162.4 63.8h0M164.1 67.9h0M164.5 65.9h0M160.7 66.0h0M161.5 63.9h0M161.2 67.0h0M162.2 64.1h0M158.3 62.8h0M163.7 68.4h0M158.4 66.0h0M162.4 63.9h0M158.9 64.0h0M161.6 63.2h0M162.4 65.3h0M162.9 65.9h0M159.4 65.2h0M161.4 64.3h0M162.2 67.8h0M157.4 61.9h0M160.7 59.5h0M157.0 60.6h0M159.4 62.9h0M159.3 59.8h0M160.2 59.3h0M156.2 58.5h0M159.2 61.4h0" stroke="#8a5cb8" stroke-width="1.32" stroke-linecap="round" fill="none"/>
<path d="M116.3 78.6h0M124.3 64.9h0M125.5 71.7h0M120.1 82.9h0M119.1 69.5h0M126.6 79.4h0M121.9 85.7h0M106.4 76.3h0M131.8 74.5h0M122.7 73.7h0M125.8 67.0h0M126.9 78.2h0M116.5 67.8h0M111.7 64.2h0M112.7 73.9h0M115.1 75.4h0M125.5 70.6h0M107.5 79.2h0M108.6 81.4h0M109.6 77.7h0M118.6 79.9h0M109.9 74.2h0M114.4 67.6h0M113.5 80.4h0M131.4 72.9h0M111.9 71.5h0M114.5 74.0h0M132.0 79.9h0M107.7 73.8h0M123.9 67.3h0M132.1 71.3h0M113.8 82.8h0M114.7 85.4h0M114.4 78.1h0M127.0 72.6h0M126.5 80.8h0M128.7 79.6h0M113.3 86.4h0M117.0 72.3h0M109.5 80.4h0M128.2 65.7h0M128.9 84.0h0M129.8 65.7h0M125.9 82.5h0M126.6 68.9h0M118.8 65.8h0M125.5 75.5h0M117.1 80.7h0M114.5 83.8h0M117.6 77.4h0M115.5 66.0h0M126.6 79.4h0M129.0 79.4h0M117.7 70.5h0M110.6 69.4h0M113.1 76.7h0M121.1 78.5h0M109.7 66.3h0M109.6 63.0h0M113.2 72.5h0M112.9 69.4h0M117.1 71.1h0M126.9 75.3h0M131.3 75.5h0M120.3 77.4h0M122.6 79.4h0M117.6 64.4h0M108.4 83.0h0M112.0 83.8h0M116.5 87.6h0M124.5 68.8h0M128.4 67.7h0M122.6 78.9h0M126.5 67.9h0M113.2 66.6h0M131.0 79.8h0M122.7 76.3h0M122.6 78.6h0M112.1 77.7h0M131.6 73.1h0M127.2 75.7h0M126.5 67.9h0M112.6 83.7h0M119.3 72.7h0M127.9 68.7h0M132.0 74.2h0M118.9 76.6h0M119.7 64.9h0M115.1 75.4h0M108.2 62.4h0M113.4 72.5h0M120.0 83.2h0M111.2 72.4h0M131.4 73.2h0M124.1 77.5h0M121.7 78.0h0M116.1 80.5h0M116.6 69.4h0M113.8 75.1h0M112.4 83.5h0M127.8 80.7h0M131.0 71.2h0M130.7 75.3h0M120.4 64.8h0M122.3 85.5h0M118.9 66.7h0M125.2 75.0h0M133.6 78.3h0M111.0 69.3h0M121.8 74.5h0M125.5 77.5h0M116.7 75.2h0M131.2 74.6h0M120.6 83.4h0M123.0 64.3h0M132.0 68.0h0M107.9 65.0h0M125.1 63.3h0M108.2 77.8h0M129.3 80.7h0M106.4 68.2h0M109.5 82.4h0M109.8 68.7h0M123.4 84.8h0M114.1 85.7h0M130.8 77.1h0M122.9 77.7h0M109.0 68.1h0M109.2 68.3h0M115.5 87.3h0M121.3 85.2h0M123.3 67.0h0M119.8 81.1h0M115.0 77.5h0M123.4 70.7h0M120.8 67.6h0M116.5 68.0h0M109.1 79.1h0M124.0 71.6h0M110.7 71.1h0M122.3 65.6h0M105.6 78.5h0M120.7 86.5h0M114.4 74.3h0M110.8 78.7h0M131.9 82.4h0M125.0 77.4h0M107.4 73.5h0M107.8 65.3h0M111.6 80.3h0M124.5 83.8h0M129.2 72.3h0M108.6 76.8h0M121.8 67.5h0M118.4 63.0h0M132.2 83.0h0M120.8 86.9h0M126.3 66.9h0M130.6 76.1h0M125.6 75.1h0M126.2 69.0h0M124.0 65.8h0M113.3 82.8h0M119.5 84.9h0M124.6 78.7h0M120.4 67.0h0M113.9 84.3h0M125.1 75.8h0M108.5 72.1h0M131.8 80.5h0M113.4 82.8h0M127.0 68.8h0M127.0 85.0h0M116.7 63.9h0M119.8 76.5h0M115.2 80.2h0M112.9 67.8h0M120.1 65.4h0M120.0 86.8h0M114.8 87.1h0M131.9 79.7h0M123.7 75.3h0M127.5 79.1h0M107.7 86.4h0M122.7 63.7h0M111.5 82.0h0M126.4 75.8h0M123.7 80.4h0M115.1 84.3h0M109.0 71.7h0M116.4 72.0h0M122.0 74.3h0M113.4 76.2h0M110.3 75.1h0M110.7 85.7h0M109.2 69.7h0M117.5 73.8h0M113.9 87.6h0M121.2 71.5h0M125.2 71.7h0M117.5 70.7h0M124.5 72.7h0M118.5 76.1h0M118.2 65.0h0M110.8 66.8h0M131.2 69.0h0M109.6 80.0h0M127.7 80.4h0M124.7 74.3h0M132.1 72.0h0M127.1 85.4h0M120.3 69.4h0M126.5 75.3h0M129.8 78.1h0M117.3 66.1h0M108.3 84.6h0M114.0 78.6h0M111.3 79.2h0M107.1 75.0h0M111.3 68.3h0M112.7 79.0h0M126.2 75.9h0M131.5 72.5h0M120.6 63.1h0M116.2 71.2h0M128.7 71.9h0M111.5 63.0h0M125.0 78.4h0M132.7 75.1h0M129.3 75.5h0M108.3 78.5h0M110.1 79.8h0M125.8 72.1h0M127.1 79.4h0M114.9 82.8h0M127.4 75.0h0M124.3 76.4h0M107.3 75.2h0M108.5 85.8h0M126.2 80.5h0M120.6 87.1h0M118.7 72.9h0M127.0 76.8h0M109.4 75.7h0M111.3 81.3h0M129.4 68.0h0M125.8 75.3h0M117.0 74.1h0M125.2 71.3h0M114.4 76.6h0M108.4 68.8h0M120.3 64.3h0M111.4 70.1h0M113.0 78.5h0M123.5 64.7h0M127.4 78.1h0M110.8 66.3h0M107.6 74.0h0M130.2 76.0h0M113.2 79.1h0M121.3 80.8h0M111.5 69.2h0M117.6 87.6h0M111.6 63.1h0M127.3 63.1h0M107.8 75.6h0M119.9 87.3h0M121.9 76.7h0M111.7 67.2h0M127.4 77.2h0M129.2 75.4h0M125.2 72.3h0M109.9 70.2h0M123.4 76.2h0M119.2 74.7h0M119.8 69.0h0M112.2 68.2h0M130.3 82.4h0M122.8 65.3h0M125.3 69.6h0M108.4 83.4h0M125.9 84.7h0M129.5 68.1h0M119.6 84.1h0M132.5 76.5h0M116.7 75.4h0M113.8 83.7h0M124.3 75.4h0M118.9 65.6h0M112.7 87.2h0M132.3 76.4h0M108.9 85.4h0M124.7 67.0h0M121.1 63.6h0M122.0 80.7h0M114.7 81.6h0M112.9 74.9h0M118.7 65.8h0M126.5 83.8h0M116.7 89.4h0M114.3 74.3h0M131.2 82.1h0M126.2 75.4h0M122.7 82.0h0M107.6 75.8h0M116.2 74.2h0M130.6 70.2h0M109.4 84.4h0M117.1 84.8h0M107.7 69.0h0M112.9 74.5h0M109.7 71.3h0M109.0 83.2h0M128.0 84.0h0M130.2 65.0h0M112.1 86.1h0M109.2 80.0h0M124.2 68.6h0M129.9 78.1h0M127.0 75.5h0M126.8 77.1h0M120.4 84.7h0M119.5 77.3h0M120.7 79.9h0M128.1 80.5h0M114.2 71.7h0M116.6 80.5h0M116.6 84.8h0M109.5 83.7h0M119.9 80.6h0M127.2 67.1h0M111.9 72.0h0M109.3 79.7h0M126.2 71.2h0M114.0 69.0h0M132.6 79.4h0M114.2 73.5h0M123.4 64.3h0M128.7 82.4h0M107.4 77.0h0M111.0 85.9h0M110.0 72.2h0M128.1 76.1h0M107.0 64.4h0M127.1 68.1h0M130.2 81.6h0M107.0 75.6h0M126.0 80.4h0M124.9 80.6h0M130.0 71.8h0M130.7 79.3h0M120.9 73.8h0M112.1 69.4h0M119.2 85.0h0M126.4 83.0h0M132.3 77.9h0M108.1 78.0h0M123.5 81.7h0M122.2 78.3h0M125.3 81.0h0M118.7 81.5h0M109.3 82.7h0M120.0 64.9h0M121.1 84.0h0M132.1 71.7h0M111.7 72.0h0M118.5 79.6h0M128.2 66.2h0M121.3 63.9h0M116.7 65.0h0M109.6 64.0h0M127.0 65.3h0M122.1 69.5h0M117.0 77.5h0M120.4 81.2h0M116.8 81.8h0M110.8 71.5h0M123.7 84.1h0M127.7 79.0h0M107.6 75.5h0M111.4 77.2h0M124.1 74.3h0M109.4 64.8h0M131.5 71.4h0M125.8 74.9h0M115.5 84.3h0M113.8 73.0h0M120.9 78.2h0M120.2 81.9h0M125.7 77.3h0M108.3 67.1h0M110.5 74.1h0M111.4 67.1h0M105.8 80.7h0M114.8 77.8h0M115.8 83.5h0M119.8 75.2h0M121.0 73.9h0M118.1 76.0h0M120.5 66.7h0M111.7 74.9h0M112.7 84.3h0M115.3 85.1h0M127.9 63.9h0M109.3 68.0h0M110.9 70.5h0M128.5 74.4h0M112.0 69.9h0M122.6 75.2h0M114.9 79.8h0M119.5 65.5h0M130.0 79.7h0M129.4 72.1h0M132.7 79.4h0M126.7 78.2h0M127.2 74.8h0M113.9 68.7h0M126.2 84.0h0M118.2 70.6h0M114.3 81.1h0M124.1 84.4h0M126.0 69.7h0M109.5 86.4h0M116.0 76.2h0M107.5 78.0h0M117.3 84.8h0M106.1 76.9h0M123.1 75.4h0M108.7 85.1h0M125.9 72.5h0M106.7 76.1h0M115.4 77.7h0M124.4 86.5h0M119.4 84.8h0M117.8 80.8h0M119.8 81.6h0M118.1 78.3h0M122.7 74.5h0M115.7 80.0h0M113.2 76.5h0M127.6 79.1h0M119.9 82.0h0M129.6 68.4h0M128.2 74.3h0M116.0 67.7h0M108.0 69.3h0M113.1 78.6h0M111.8 67.1h0M124.8 85.6h0M109.5 71.0h0M117.7 81.1h0M118.2 79.8h0M110.6 66.3h0M127.1 64.2h0M126.4 83.2h0M122.7 73.0h0M133.2 74.0h0M117.5 74.9h0M133.6 74.2h0M118.7 83.2h0M126.9 83.3h0M121.5 72.6h0M115.6 82.1h0M120.0 64.0h0M119.5 76.5h0M119.1 74.1h0M114.7 83.3h0M117.4 85.5h0M115.8 72.0h0M107.1 76.6h0M131.7 77.4h0M125.7 82.2h0M125.3 68.2h0M114.5 75.7h0M131.3 66.5h0M122.5 76.6h0M125.0 71.4h0M130.2 75.2h0M116.0 85.3h0M112.6 91.9h0M106.8 85.3h0M113.6 87.3h0M108.1 87.3h0M114.0 89.1h0M108.0 88.6h0M107.2 83.0h0M113.2 90.4h0M113.9 87.1h0M112.5 84.9h0M110.5 85.2h0M104.2 92.0h0M106.7 87.1h0M106.3 84.7h0M103.1 87.7h0M104.5 89.7h0M112.8 88.4h0M111.1 87.5h0M106.2 84.2h0M107.2 86.2h0M107.9 91.5h0M106.7 87.7h0M109.0 81.9h0M105.5 83.7h0M113.6 85.5h0M105.1 92.3h0M102.2 89.4h0M112.9 90.7h0M110.3 85.3h0M102.9 89.6h0M109.2 88.4h0M112.7 92.0h0M111.5 88.1h0M109.5 81.6h0M112.3 89.2h0M104.9 88.9h0M110.2 86.3h0M110.3 83.6h0M105.0 86.1h0M105.2 89.7h0M103.7 88.2h0M109.2 86.6h0M106.3 80.7h0M113.0 86.3h0M105.3 93.8h0M106.6 80.5h0M113.7 89.3h0M112.5 89.9h0M112.6 90.7h0M104.4 88.2h0M113.4 86.5h0M111.7 91.5h0M102.5 88.3h0M113.4 90.4h0M99.3 64.3h0M105.4 64.4h0M105.6 62.1h0M96.2 65.3h0M103.7 65.3h0M98.1 62.5h0M105.3 61.2h0M94.3 61.0h0M96.2 62.5h0M97.4 62.8h0M92.5 62.1h0M99.1 60.3h0M98.7 65.4h0M101.1 65.7h0M159.0 64.0h0M156.9 60.9h0M159.9 62.6h0M159.2 67.2h0M159.0 65.7h0M81.2 102.3h0M86.7 102.4h0M86.2 100.4h0M90.8 100.1h0M99.7 92.4h0M97.3 94.0h0M104.1 93.3h0M86.9 99.7h0M83.4 98.8h0M92.8 95.8h0M99.6 96.4h0M107.7 90.5h0M100.8 95.2h0M94.1 94.7h0M86.0 98.9h0M91.2 97.1h0M103.6 92.4h0M83.5 101.7h0M107.4 91.3h0M95.8 97.1h0M91.9 102.6h0M101.0 92.9h0M104.6 92.2h0M101.0 93.7h0M92.1 96.9h0M84.2 94.9h0M82.3 99.7h0M82.0 103.9h0M102.0 96.1h0M98.8 89.3h0M106.0 95.2h0M95.8 94.9h0M91.7 101.2h0M105.1 90.0h0" stroke="#e8821f" stroke-width="1.32" stroke-linecap="round" fill="none"/>
<path d="M100.7 62.3h0M92.0 71.5h0M93.7 81.1h0M102.2 73.2h0M99.7 61.7h0M95.9 79.3h0M97.8 72.7h0M99.4 61.1h0M90.9 76.9h0M102.4 62.2h0M100.3 83.5h0M103.0 82.8h0M94.9 77.4h0M96.3 62.8h0M101.6 64.5h0M99.9 76.3h0M98.5 75.5h0M103.3 75.4h0M96.9 72.3h0M96.4 66.7h0M101.8 64.4h0M94.1 71.7h0M99.1 61.0h0M105.4 69.3h0M89.9 68.4h0M102.6 77.5h0M94.8 74.8h0M99.6 70.7h0M89.8 75.3h0M101.7 70.6h0M100.9 72.1h0M93.0 76.3h0M105.2 66.9h0M101.6 68.8h0M103.1 69.5h0M98.0 63.3h0M88.9 73.3h0M102.5 72.8h0M90.3 75.0h0M105.4 79.9h0M101.7 66.9h0M103.8 75.9h0M95.1 68.9h0M101.2 81.5h0M102.9 69.6h0M96.2 74.5h0M93.6 81.1h0M95.5 69.3h0M94.8 72.6h0M102.3 72.2h0M98.0 65.6h0M95.1 63.7h0M97.6 73.5h0M104.5 67.5h0M104.1 73.8h0M93.0 76.2h0M90.9 66.7h0M97.4 79.7h0M94.2 77.2h0M93.0 76.3h0M96.0 60.4h0M101.1 71.7h0M91.3 78.5h0M102.8 72.8h0M96.7 73.2h0M91.1 74.5h0M97.2 67.3h0M99.9 61.2h0M92.0 66.9h0M98.6 75.6h0M96.5 81.1h0M90.0 67.7h0M96.3 75.6h0M99.6 62.7h0M92.7 73.3h0M96.2 67.5h0M105.6 67.8h0M103.7 68.2h0M98.6 65.8h0M105.0 74.2h0M105.3 76.1h0M99.9 62.0h0M100.0 66.2h0M102.7 75.7h0M96.1 83.0h0M97.4 72.3h0M102.1 74.5h0M88.9 70.2h0M95.3 74.2h0M103.1 71.2h0M93.8 71.0h0M100.2 75.4h0M93.6 62.2h0M93.8 77.1h0M89.4 73.4h0M99.5 69.3h0M94.3 71.9h0M100.4 80.3h0M96.2 79.2h0M100.5 72.9h0M100.4 63.0h0M102.3 61.9h0M103.8 63.3h0M99.7 77.7h0M96.2 70.7h0M104.6 67.4h0M90.7 74.8h0M92.0 76.7h0M98.7 60.5h0M104.4 79.0h0M98.4 66.9h0M99.6 75.2h0M105.7 69.9h0M102.6 81.9h0M90.7 71.8h0M102.8 65.5h0M93.6 81.2h0M92.9 69.7h0M103.4 82.9h0M88.9 69.6h0M100.4 66.0h0M95.3 78.6h0M97.9 81.7h0M96.4 64.4h0M96.2 82.1h0M97.6 76.4h0M95.1 80.0h0M98.4 77.1h0M96.0 67.6h0M97.7 71.2h0M91.9 77.7h0M97.9 83.3h0M94.7 69.6h0M101.7 71.5h0M100.4 69.2h0M99.2 73.9h0M105.0 64.9h0M100.3 65.8h0M97.5 66.1h0M102.0 63.9h0M99.8 68.5h0M95.5 74.8h0M99.8 64.9h0M106.5 72.7h0M91.9 77.4h0M100.6 78.1h0M96.7 82.7h0M91.5 65.4h0M93.5 77.9h0M95.7 77.9h0M103.4 69.9h0M95.4 73.4h0M104.5 78.9h0M90.3 75.6h0M100.6 64.4h0M91.4 79.9h0M101.6 70.4h0M90.4 77.4h0M95.5 66.8h0M96.4 62.8h0M91.6 62.8h0M100.4 80.6h0M90.5 65.5h0M104.7 80.2h0M95.8 80.8h0M88.5 72.6h0M93.6 76.2h0M104.5 70.4h0M93.5 61.1h0M93.1 64.2h0M94.8 74.7h0M98.2 66.5h0M95.1 62.7h0M98.8 81.0h0M105.3 73.6h0M95.2 63.4h0M101.1 81.7h0M96.1 72.5h0M91.6 80.7h0M98.0 80.3h0M97.9 75.6h0M97.5 68.5h0M103.8 65.7h0M93.4 67.7h0M101.4 69.0h0M94.5 73.2h0M92.7 69.6h0M98.9 82.6h0M104.7 64.8h0M92.4 68.4h0M104.4 70.3h0M93.3 82.7h0M102.7 73.7h0M97.2 67.9h0M100.8 66.7h0M92.7 63.9h0M92.3 81.5h0M89.7 73.5h0M99.7 74.0h0M94.1 73.5h0M90.8 65.2h0M106.6 67.7h0M98.0 74.0h0M100.0 83.3h0M94.4 74.8h0M100.3 68.4h0M92.3 61.6h0M93.1 67.2h0M105.2 72.4h0M97.5 79.8h0M94.8 64.2h0M96.6 74.4h0M95.5 75.5h0M100.1 62.1h0M101.7 68.8h0M88.6 70.0h0M94.2 61.4h0M93.5 74.8h0M92.7 81.5h0M93.0 75.1h0M92.8 69.1h0M100.1 70.9h0M95.9 82.7h0M99.4 71.5h0M95.0 71.6h0M98.6 67.5h0M96.0 70.9h0M98.1 61.0h0M92.6 65.7h0M99.8 69.2h0M97.3 82.1h0M92.5 61.7h0M95.3 62.3h0M102.6 69.0h0M104.7 77.4h0M96.8 71.6h0M98.7 66.1h0M105.8 76.5h0M100.0 61.4h0M97.0 65.2h0M99.1 67.0h0M91.2 76.5h0M102.1 83.8h0M95.7 67.7h0M97.7 75.6h0M104.6 80.0h0M100.7 63.8h0M97.2 77.6h0M97.7 63.0h0M94.8 76.4h0M104.9 78.6h0M92.5 70.7h0M92.5 71.4h0M92.5 77.5h0M98.5 72.8h0M100.7 79.2h0M103.7 75.3h0M96.5 78.7h0M98.8 60.9h0M95.5 65.3h0M94.2 79.0h0M97.9 77.5h0M100.1 70.6h0M93.9 65.9h0M105.0 76.6h0M101.9 75.3h0M96.3 66.6h0M96.7 69.4h0M104.4 65.2h0M100.2 75.2h0M98.3 83.7h0M104.1 75.8h0M91.7 63.5h0M102.3 64.7h0M102.2 74.7h0M92.0 64.1h0M88.6 69.5h0M96.3 69.3h0M96.7 69.7h0M97.4 75.9h0M91.1 75.2h0M102.2 69.6h0M92.4 74.7h0M94.7 72.4h0M94.3 77.6h0M98.0 62.2h0M91.2 71.8h0M95.8 77.0h0M98.1 77.3h0M94.9 64.2h0M93.1 73.6h0M102.8 72.6h0M105.3 66.5h0M90.8 77.5h0M102.3 72.8h0M102.2 64.4h0M96.8 67.7h0M93.7 63.6h0M98.3 79.5h0M103.8 66.8h0M88.8 68.1h0M106.1 77.8h0M95.6 82.3h0M89.8 72.0h0M99.8 79.6h0M102.7 72.7h0M105.0 66.8h0M103.5 80.3h0M95.2 75.4h0M103.8 64.0h0M89.1 66.0h0M93.2 73.0h0M91.8 75.1h0M92.4 73.9h0M93.4 74.3h0M105.2 70.6h0M93.8 72.1h0M101.3 67.1h0M101.0 72.4h0M96.9 76.5h0M96.0 73.9h0M97.7 77.3h0M99.9 62.8h0M90.3 73.9h0M105.3 74.1h0M99.0 81.6h0M91.3 75.2h0M93.5 65.6h0M96.1 68.3h0M101.4 64.7h0M105.0 81.1h0M104.4 81.0h0M98.5 64.9h0M100.4 65.8h0M93.6 65.5h0M88.5 65.8h0M99.9 63.0h0M97.9 84.3h0M105.6 77.3h0M97.9 72.9h0M102.7 73.2h0M101.9 74.1h0M96.7 80.4h0M81.6 88.8h0M86.8 79.2h0M84.1 86.9h0M84.5 84.6h0M87.2 77.5h0M86.5 78.8h0M91.1 77.0h0M84.9 86.7h0M88.6 76.5h0M85.9 86.5h0M90.3 78.9h0M90.4 82.0h0M82.5 81.8h0M89.8 78.1h0M90.0 79.4h0M81.8 91.1h0M86.9 83.7h0M93.5 78.0h0M81.8 81.6h0M81.8 89.3h0M84.3 86.3h0M83.3 84.4h0M83.0 91.2h0M87.3 80.0h0M89.1 79.8h0M79.7 88.8h0M81.4 90.4h0M83.0 88.7h0M88.3 76.7h0M87.0 79.0h0M84.1 84.9h0M91.3 81.1h0M82.0 92.2h0M81.1 90.7h0M90.3 75.9h0M87.4 77.2h0M92.0 79.6h0M83.8 87.5h0M82.9 81.8h0M81.7 88.1h0M90.4 79.5h0M84.0 87.1h0M88.4 78.8h0M86.6 78.5h0M83.5 84.9h0M81.9 86.0h0M92.4 76.9h0M84.2 80.8h0M80.9 87.9h0M82.2 85.4h0M86.6 80.5h0M89.4 77.6h0M88.1 81.1h0M86.4 82.7h0M87.3 84.2h0M86.9 79.0h0M86.2 87.0h0M86.2 82.3h0M81.9 84.3h0M89.6 81.2h0M80.9 88.3h0M86.5 78.5h0M89.1 78.8h0M84.4 86.7h0M91.9 79.3h0M85.8 80.0h0M85.8 82.7h0M87.0 78.5h0M84.4 81.2h0M80.9 86.4h0M83.0 81.9h0M91.6 77.6h0M82.1 90.5h0M68.1 112.9h0M81.3 108.2h0M69.5 108.7h0M81.0 114.7h0M70.4 117.0h0M69.1 112.9h0M79.1 114.0h0M67.2 108.5h0M69.3 117.5h0M82.2 111.0h0" stroke="#cc2629" stroke-width="1.32" stroke-linecap="round" fill="none"/>
<path d="M106.0 61.2h0M110.4 57.0h0M109.0 60.6h0M127.4 61.5h0M128.3 63.1h0M118.8 59.9h0M102.4 56.7h0M102.8 58.9h0M103.4 61.2h0M103.5 59.0h0M97.9 60.4h0M105.7 60.4h0M97.7 58.1h0M106.7 57.0h0M112.2 63.0h0M122.5 60.8h0M119.4 60.1h0M112.1 64.1h0M104.4 61.8h0M120.0 58.5h0M128.5 60.5h0M104.7 60.0h0M126.8 59.8h0M106.7 58.4h0M116.9 65.4h0M127.4 60.8h0M110.6 62.4h0M114.8 63.0h0M107.1 62.5h0M103.8 61.9h0M98.5 57.1h0M106.7 56.6h0M110.2 59.2h0M123.4 59.2h0M102.9 57.9h0M104.7 57.8h0M120.0 65.0h0M108.4 58.4h0M112.6 59.2h0M117.1 62.6h0M118.0 65.4h0M101.4 59.6h0M106.1 62.6h0M109.9 62.3h0M119.2 58.7h0M107.8 64.3h0M97.8 60.7h0M110.4 64.6h0M105.9 57.1h0M99.1 60.3h0M98.7 58.8h0M124.4 58.8h0M102.3 63.2h0M100.0 57.2h0M107.5 56.8h0M117.6 62.5h0M106.8 57.2h0M100.9 58.2h0M96.6 60.8h0M115.1 65.6h0M120.2 64.5h0M117.1 65.7h0M100.1 57.9h0M110.5 62.4h0M115.2 60.6h0M95.6 57.7h0M118.9 60.8h0M115.1 60.0h0M104.5 60.9h0M125.8 59.2h0M111.8 60.8h0M112.7 61.1h0M107.4 60.1h0M103.1 61.3h0M113.4 61.9h0M124.6 63.8h0M121.8 60.9h0M125.8 59.5h0M101.5 61.1h0M110.9 57.1h0M124.6 59.0h0M115.2 62.8h0M118.8 65.4h0M127.3 60.3h0M117.3 64.5h0M126.1 59.0h0M118.4 59.1h0M111.7 57.4h0M118.5 62.5h0M115.3 62.6h0M107.0 57.3h0M109.3 64.0h0M113.4 63.3h0M99.1 60.5h0M103.8 59.2h0M126.9 60.0h0M125.1 63.9h0" stroke="#d77fc6" stroke-width="1.32" stroke-linecap="round" fill="none"/>
<path d="M66.4 221.2h0M73.0 218.7h0M55.7 219.4h0M62.9 216.9h0M59.4 216.8h0M65.2 214.4h0M64.6 220.3h0M55.9 215.7h0M63.2 211.5h0M63.4 215.8h0M64.8 218.2h0M77.0 215.4h0M62.1 211.3h0M61.5 211.1h0M58.5 217.0h0M72.6 214.2h0M74.0 211.8h0M60.4 214.2h0M65.3 212.1h0M57.7 222.2h0M78.1 215.7h0M66.4 218.8h0M64.3 222.0h0M54.8 218.2h0M65.3 221.4h0M59.7 222.6h0M71.5 212.3h0M64.8 222.8h0M76.4 211.5h0M61.7 214.2h0M64.5 219.9h0M59.9 216.7h0M63.9 218.2h0M76.1 210.7h0M57.0 217.2h0M60.1 218.0h0M59.1 215.9h0M63.3 211.1h0M63.4 222.0h0M55.4 216.0h0M59.5 219.0h0M74.0 215.7h0M56.1 220.0h0M65.9 211.2h0M77.2 215.3h0M73.8 215.0h0M63.1 211.6h0M73.2 213.0h0M71.8 210.0h0M68.5 211.6h0M66.6 218.0h0M63.9 224.1h0M69.9 212.8h0M60.9 214.6h0M69.7 217.9h0M54.9 218.9h0M55.2 216.9h0M74.3 210.2h0M75.7 216.3h0M73.6 210.5h0M65.4 211.7h0M68.5 211.9h0M62.6 218.0h0M62.1 212.3h0M63.1 224.3h0M77.1 210.7h0M73.6 211.4h0M60.1 222.3h0M68.5 209.8h0M73.0 212.9h0M61.5 215.1h0M56.0 220.0h0M65.7 212.3h0M75.2 212.8h0M64.0 214.1h0M64.8 213.1h0M57.9 219.2h0M73.6 211.6h0M62.5 221.5h0M67.2 211.1h0M79.9 214.2h0M56.0 214.3h0M72.3 213.9h0M61.6 215.2h0M57.5 216.8h0M78.4 214.4h0M69.0 216.2h0M59.3 218.4h0M60.7 221.7h0M58.7 212.8h0M67.4 219.9h0M65.6 211.2h0M70.8 214.0h0M78.9 213.3h0M70.6 210.5h0M66.0 218.9h0M55.3 216.1h0M60.2 217.4h0M60.5 218.7h0M63.4 217.0h0M74.2 216.6h0M62.6 218.5h0M58.6 219.0h0M56.0 213.9h0M62.9 212.3h0M71.6 213.8h0M65.2 211.2h0M64.5 221.8h0M63.3 219.3h0M72.0 216.4h0M54.8 218.7h0M56.8 212.3h0M58.4 211.8h0M56.5 220.1h0M67.9 215.5h0M64.4 218.2h0M62.3 222.3h0M66.5 214.3h0M58.6 223.8h0M58.7 212.3h0M65.9 212.0h0M61.6 219.5h0M66.4 219.1h0M54.4 218.0h0M74.7 216.1h0M67.8 211.3h0M58.8 217.8h0" stroke="#7e4c40" stroke-width="1.40" stroke-linecap="round" fill="none"/>
<path d="M50.2 235.4h0M70.0 236.5h0M67.8 228.2h0M65.7 229.7h0M58.4 235.4h0M55.4 235.3h0M66.4 234.6h0M61.3 237.4h0M56.7 227.3h0M62.1 222.0h0M66.0 227.3h0M57.1 237.8h0M63.7 235.6h0M64.1 232.8h0M58.0 221.5h0M55.5 236.6h0M62.7 242.7h0M56.5 225.3h0M60.2 238.1h0M66.3 234.3h0M55.0 225.1h0M70.1 238.6h0M52.3 222.6h0M50.1 226.0h0M61.4 239.3h0M70.4 238.8h0M62.0 234.3h0M65.0 236.1h0M61.2 227.6h0M61.4 221.3h0M60.9 241.7h0M49.8 227.1h0M60.4 222.0h0M55.0 233.1h0M67.1 236.7h0M66.5 239.9h0M61.6 236.6h0M63.6 237.7h0M64.0 226.9h0M67.1 234.5h0M62.7 238.0h0M59.1 235.5h0M51.9 228.5h0M51.9 223.5h0M58.9 238.1h0M60.8 228.7h0M52.2 225.8h0M63.6 226.7h0M66.9 228.6h0M59.9 223.2h0M52.9 231.9h0M58.7 226.4h0M58.8 236.0h0M69.0 234.3h0M66.8 242.2h0M57.7 230.6h0M54.9 222.9h0M55.8 238.8h0M60.8 232.4h0M59.2 236.1h0M55.8 224.6h0M51.2 232.8h0M65.2 242.1h0M64.2 236.8h0M55.2 237.0h0M56.8 233.0h0M65.0 223.3h0M64.0 222.7h0M61.7 235.9h0M62.2 240.4h0M56.6 224.7h0M69.4 242.5h0M68.8 240.8h0M62.8 237.8h0M66.8 226.0h0M65.8 226.6h0M53.9 224.4h0M68.6 235.9h0M62.3 223.3h0M70.7 234.9h0M57.2 219.9h0M67.8 235.3h0M54.2 220.3h0M61.0 237.9h0M61.4 223.8h0M52.9 224.4h0M62.3 229.1h0M51.4 222.6h0M56.6 232.8h0M50.1 227.6h0M53.5 228.4h0M69.2 238.5h0M50.6 236.2h0M67.9 228.9h0M68.8 234.1h0M64.2 222.8h0M50.5 235.1h0M61.9 232.6h0M65.7 241.4h0M69.8 241.6h0M59.4 227.5h0M65.1 242.2h0M66.9 224.9h0M54.3 231.0h0M66.7 239.2h0M52.8 226.7h0M52.0 231.4h0M62.8 225.1h0M67.3 236.1h0M62.3 237.5h0M67.4 234.5h0M62.3 240.9h0M61.2 235.1h0M65.0 233.7h0M54.1 232.6h0M55.0 221.8h0M55.2 235.8h0M66.1 227.1h0M61.0 234.5h0M58.4 228.6h0M59.3 224.0h0M61.8 228.9h0M56.0 240.1h0M58.0 222.0h0M67.2 235.3h0M62.1 223.1h0M54.4 237.3h0M48.3 231.2h0M52.6 228.4h0M54.2 229.3h0M65.8 222.2h0M69.3 238.3h0M51.2 234.8h0M56.3 220.4h0M55.9 232.9h0M53.1 237.6h0M56.0 222.5h0M51.8 231.4h0M52.2 231.8h0M64.3 222.8h0M67.3 236.2h0M58.3 236.1h0M52.7 234.7h0M69.1 234.8h0M57.3 222.4h0M58.8 234.3h0M63.1 235.0h0M52.9 233.0h0M60.4 232.6h0M65.2 225.9h0M68.3 233.1h0M51.5 228.9h0M57.8 218.6h0M49.9 227.8h0M64.1 237.9h0M57.9 235.4h0M58.1 228.2h0M56.1 221.7h0M61.3 241.7h0M58.0 231.2h0M66.0 226.6h0M58.0 233.2h0M59.5 235.5h0M56.2 236.0h0M59.4 239.0h0M55.3 230.4h0M56.6 229.5h0M67.7 236.0h0M57.5 240.0h0M54.7 224.4h0M55.5 228.3h0M69.6 238.3h0M56.5 234.1h0M62.1 229.1h0M66.9 237.5h0M54.4 235.8h0M54.8 238.0h0M61.7 229.0h0M55.8 236.6h0M64.7 225.6h0M57.0 229.4h0M55.5 227.0h0M69.0 235.7h0M58.4 223.8h0M58.9 222.1h0M63.5 241.7h0M50.1 232.2h0M60.4 222.2h0M71.3 237.4h0M58.7 229.9h0M57.5 235.7h0M67.1 232.4h0M59.8 224.5h0M69.5 235.6h0M63.5 224.0h0M61.8 230.8h0M62.7 226.9h0M69.6 239.7h0M60.4 237.5h0M52.1 229.6h0M60.4 237.9h0M65.1 229.4h0M65.3 231.1h0M65.4 229.8h0M59.3 233.2h0M56.9 227.4h0M52.8 226.3h0M66.5 236.1h0M55.6 227.7h0M57.9 222.5h0M69.3 233.4h0M60.4 236.3h0M59.9 226.4h0M63.3 222.2h0M61.2 221.6h0M67.8 226.3h0M52.1 236.1h0M59.3 225.4h0M54.8 221.8h0M51.6 229.4h0M60.9 234.8h0M68.7 240.5h0M62.1 240.7h0M55.8 228.9h0" stroke="#4a9e3c" stroke-width="1.40" stroke-linecap="round" fill="none"/>
<path d="M78.3 221.3h0M77.9 218.7h0M71.8 215.6h0M92.5 223.7h0M92.7 231.4h0M95.7 222.3h0M87.4 222.1h0M88.5 217.4h0M77.6 215.1h0M85.9 234.5h0M81.1 233.2h0M78.6 231.6h0M77.3 230.5h0M95.4 219.6h0M94.3 228.8h0M95.4 220.3h0M71.2 232.6h0M78.2 215.5h0M92.8 222.8h0M72.5 224.3h0M90.1 216.7h0M79.6 232.8h0M92.0 223.4h0M94.0 216.4h0M97.8 229.1h0M81.8 219.3h0M72.7 227.0h0M83.1 227.1h0M77.4 220.8h0M80.2 224.1h0M76.4 226.7h0M81.8 218.4h0M92.5 224.5h0M96.8 220.5h0M87.9 225.8h0M75.7 230.3h0M71.3 219.9h0M84.5 213.6h0M86.0 217.3h0M77.9 223.9h0M78.0 218.8h0M81.3 227.0h0M76.9 218.7h0M72.5 217.5h0M72.8 230.4h0M77.9 233.3h0M70.9 223.1h0M91.0 225.2h0M85.5 212.6h0M81.0 223.4h0M82.5 228.5h0M71.4 229.7h0M93.9 224.0h0M88.7 219.2h0M69.4 227.2h0M79.8 220.6h0M97.8 222.2h0M84.1 229.5h0M85.2 228.4h0M91.9 218.5h0M94.3 218.7h0M71.4 225.0h0M95.9 227.6h0M79.6 234.4h0M96.7 222.0h0M89.6 216.0h0M93.0 225.0h0M97.6 229.7h0M98.4 226.7h0M81.9 213.7h0M91.8 220.9h0M73.9 227.2h0M87.4 223.6h0M75.9 232.3h0M89.3 222.8h0M70.5 218.4h0M75.1 221.7h0M76.3 223.4h0M71.0 228.1h0M80.0 232.0h0M80.1 215.9h0M94.5 229.0h0M74.7 223.9h0M73.8 230.2h0M70.5 225.6h0M91.6 222.2h0M85.3 234.9h0M77.8 213.9h0M89.7 227.9h0M82.1 221.2h0M93.4 223.4h0M85.1 228.0h0M76.8 226.6h0M80.3 234.6h0M95.3 223.8h0M77.3 218.2h0M83.1 222.7h0M75.6 220.3h0M80.0 215.2h0M77.3 218.5h0M94.9 223.4h0M98.0 227.6h0M89.5 218.5h0M91.4 231.0h0M87.9 226.5h0M83.3 234.9h0M95.3 219.0h0M81.2 233.5h0M70.5 231.7h0M87.5 224.6h0M84.8 226.5h0M72.2 227.2h0M85.9 222.2h0M70.6 219.5h0M85.7 224.8h0M86.9 235.9h0M87.4 226.3h0M81.5 214.7h0M70.4 226.7h0M78.9 219.3h0M98.0 224.3h0M72.2 228.8h0M83.8 229.2h0M86.3 233.1h0M79.2 232.1h0M89.2 221.3h0M89.0 224.0h0M93.3 218.1h0M68.8 223.5h0M84.5 224.4h0M93.4 232.2h0M87.5 233.9h0M71.2 223.8h0M81.7 220.9h0M75.5 224.0h0M85.2 222.6h0M85.5 230.9h0M77.0 214.9h0M88.2 218.8h0M86.3 216.3h0M77.7 225.1h0M76.2 230.7h0M79.6 227.3h0M71.1 228.7h0M69.0 225.4h0M79.1 233.3h0M83.0 224.5h0M71.5 219.1h0M87.4 219.1h0M84.6 215.6h0M81.3 218.9h0M81.4 222.6h0M74.3 215.7h0M73.0 231.8h0M92.3 227.1h0M95.4 223.8h0M74.3 228.1h0M69.1 218.4h0M79.0 217.7h0M81.9 232.8h0M81.8 227.2h0M79.4 231.0h0M76.8 225.0h0M86.8 216.6h0M67.7 221.4h0M94.4 225.9h0M68.8 229.5h0M79.5 232.4h0M88.6 225.6h0M79.7 223.2h0M77.3 226.1h0M71.7 230.4h0M82.2 234.1h0M70.1 228.9h0M79.7 229.2h0M97.2 225.2h0M79.5 233.0h0M72.8 221.9h0M75.8 229.9h0M67.3 223.6h0M89.5 227.7h0M76.2 220.9h0M93.6 230.6h0M76.2 219.1h0M73.7 230.4h0M97.7 225.3h0M73.4 227.1h0M89.3 229.0h0M83.1 234.6h0M73.0 227.0h0M82.1 218.2h0M91.4 229.6h0M82.2 231.8h0M74.4 219.7h0M94.6 225.8h0M83.7 216.4h0M81.1 235.1h0M76.6 230.9h0M91.8 232.4h0M77.5 234.2h0M85.0 217.6h0M90.3 223.7h0M94.1 229.8h0M80.8 219.5h0M76.2 219.8h0M71.7 218.2h0M89.0 233.0h0M87.4 221.7h0M88.6 216.8h0M84.4 236.4h0M80.1 229.3h0M92.6 221.4h0M82.7 214.0h0M81.2 220.5h0M70.2 218.2h0M78.7 233.2h0M72.1 221.2h0M89.1 219.5h0M80.9 228.2h0M81.0 222.2h0M76.4 222.3h0M82.1 218.3h0M89.7 217.7h0M66.8 220.4h0M95.1 225.0h0M92.8 221.2h0M73.6 219.4h0M85.8 214.7h0M91.7 231.5h0M88.8 231.7h0M76.4 232.1h0M69.7 226.5h0M90.4 221.1h0M68.2 220.0h0M83.8 227.1h0M97.8 220.8h0M71.5 228.4h0M75.7 225.4h0M93.7 218.0h0M78.0 220.9h0M87.1 224.0h0M85.1 221.3h0M80.9 226.4h0M92.5 216.7h0M83.9 222.6h0M80.4 214.4h0M71.6 220.2h0M88.6 231.6h0M78.3 215.5h0M81.2 216.5h0M71.1 221.9h0M90.7 223.1h0M73.1 231.0h0M75.6 213.9h0M77.6 226.1h0M71.3 222.6h0M91.7 220.0h0M90.8 224.2h0M72.3 224.7h0M92.1 217.8h0M91.6 229.9h0M78.7 224.5h0M88.6 227.5h0M89.4 225.8h0M74.3 222.9h0M67.2 223.5h0M84.3 219.3h0M75.7 217.5h0M67.7 220.7h0M91.8 225.7h0M83.9 230.4h0M98.9 224.5h0M78.7 216.7h0M77.0 223.1h0M80.5 217.5h0M75.2 218.6h0M73.6 214.6h0M83.2 235.7h0M76.4 230.1h0M81.8 224.4h0M77.3 222.1h0M82.3 216.7h0M89.0 228.0h0M89.4 232.7h0M96.0 229.0h0M83.1 229.6h0M81.0 232.3h0M79.5 216.4h0M75.8 232.7h0M74.7 228.2h0M75.9 222.3h0M95.0 219.5h0M82.5 227.0h0M78.3 221.0h0M93.0 218.4h0M85.9 220.5h0M90.7 221.9h0M78.0 220.3h0M75.6 229.0h0M84.0 220.8h0M79.0 217.6h0M98.3 229.0h0M79.1 215.6h0M82.0 228.8h0M84.0 234.1h0M81.3 217.0h0M87.2 225.0h0M88.3 228.3h0M92.6 232.9h0M93.4 218.7h0M74.1 224.9h0M94.7 222.8h0M92.8 231.5h0M76.7 227.7h0M88.5 223.3h0M72.7 232.9h0M75.9 220.7h0M80.9 221.5h0M77.1 230.1h0M78.7 228.4h0M87.4 216.1h0M87.8 220.7h0M75.2 225.5h0M85.8 233.1h0M88.8 232.3h0M71.2 230.5h0M79.4 217.5h0M94.9 219.0h0M85.6 220.1h0M77.5 220.6h0M83.2 235.8h0M79.3 218.4h0M82.8 223.3h0M79.5 230.7h0M88.8 223.8h0M85.2 214.2h0M81.9 227.1h0M81.6 228.5h0M93.1 202.3h0M86.8 201.3h0M92.4 201.0h0M94.5 195.5h0M94.3 195.5h0M89.0 198.2h0" stroke="#3a72be" stroke-width="1.40" stroke-linecap="round" fill="none"/>
<path d="M104.5 231.9h0M95.2 232.6h0M102.8 235.8h0M99.5 230.2h0M88.2 239.6h0M94.1 237.0h0M99.1 237.8h0M102.5 229.7h0M88.9 235.5h0M86.8 238.4h0M101.8 236.1h0M103.9 233.2h0M92.3 240.9h0M96.9 239.3h0M91.4 238.5h0M88.3 238.6h0M94.6 237.1h0M105.2 234.0h0M99.5 231.1h0M98.7 237.8h0M100.2 238.0h0M95.6 239.0h0M94.5 235.7h0M105.4 229.0h0M103.7 235.3h0M84.3 239.2h0M102.7 236.4h0M105.0 230.4h0M92.1 241.0h0M93.9 239.6h0M90.9 237.7h0M101.5 232.5h0M102.5 234.4h0M88.5 238.5h0M99.7 237.7h0M102.1 229.3h0M100.3 234.4h0M86.6 238.9h0M93.9 234.5h0M86.1 237.7h0M95.2 233.2h0M91.9 237.0h0M96.1 233.2h0M87.8 239.3h0M96.3 232.6h0M102.1 234.3h0M87.9 235.9h0M96.5 232.3h0M100.5 234.4h0M91.1 240.3h0M89.2 240.2h0M99.5 233.8h0M101.4 231.7h0M89.8 239.5h0" stroke="#7a7a7a" stroke-width="1.40" stroke-linecap="round" fill="none"/>
<path d="M172.5 154.3h0M163.0 151.2h0M171.5 157.1h0M160.3 158.9h0M170.9 155.1h0M159.3 154.7h0M170.2 156.1h0M170.3 152.7h0M164.5 159.2h0M168.6 153.7h0M159.7 156.4h0M164.4 151.7h0M167.0 154.6h0M164.6 158.8h0M168.2 160.0h0M167.6 151.1h0M167.5 155.3h0M171.4 157.1h0M164.7 155.2h0M168.4 159.4h0M163.5 152.3h0M168.6 154.2h0M162.4 157.6h0M167.2 157.3h0M157.2 155.3h0M167.8 151.9h0M172.1 158.4h0M164.8 161.3h0M167.6 161.4h0M168.4 152.0h0M168.2 151.0h0M166.9 158.9h0M163.5 159.5h0M163.6 151.6h0M164.4 159.5h0M160.4 156.9h0M167.9 154.0h0M158.2 158.8h0M158.1 152.4h0M161.3 153.9h0M159.5 158.4h0M161.2 155.5h0M159.0 156.5h0M168.1 154.0h0M165.2 156.9h0M165.6 155.3h0M168.8 151.9h0M169.1 153.9h0M169.4 151.8h0M166.6 156.4h0M163.8 159.7h0M160.2 158.4h0M163.9 161.8h0M166.7 152.7h0M163.6 153.7h0M167.2 150.5h0M166.2 152.1h0M172.8 155.3h0M169.2 155.1h0M164.4 152.8h0M165.1 154.7h0M170.0 158.7h0M171.2 160.7h0M164.7 153.7h0M167.1 150.7h0M169.4 156.7h0M164.8 158.8h0M173.3 157.5h0M169.2 156.3h0M173.1 155.6h0M159.9 156.8h0M169.1 152.4h0M160.5 153.7h0M165.2 155.1h0M158.0 154.0h0M168.6 156.3h0M158.6 152.2h0M169.9 160.7h0M173.9 155.6h0M162.4 160.9h0M163.7 160.6h0M156.9 156.3h0M169.2 154.9h0M156.9 155.3h0M159.0 154.1h0M162.9 160.8h0M169.7 159.0h0M166.7 151.3h0M165.3 158.5h0M159.6 158.2h0M162.5 154.7h0M168.2 158.3h0M162.8 158.8h0M160.0 152.6h0M167.0 154.4h0M160.5 152.1h0M169.0 158.9h0M170.8 159.9h0M168.5 152.8h0M168.7 156.0h0M163.3 155.6h0M165.6 154.0h0M165.4 158.4h0M165.9 158.1h0M161.1 155.8h0M165.8 159.8h0M167.1 157.5h0M172.3 156.7h0M166.7 154.3h0M168.2 156.2h0M162.0 152.1h0M169.5 150.6h0M158.1 159.9h0M161.6 153.4h0M165.6 159.0h0M159.2 153.8h0M164.8 156.6h0M169.7 158.1h0M166.2 155.3h0M170.7 154.4h0M167.0 158.0h0M162.2 160.6h0M161.3 157.7h0M165.3 152.7h0M164.3 157.9h0M165.5 161.7h0M170.7 156.6h0M167.5 152.5h0M164.3 158.0h0M167.1 160.7h0M170.0 158.7h0M165.1 162.2h0M162.0 155.6h0M172.4 156.7h0M165.3 160.4h0M169.4 153.3h0M160.2 155.7h0M159.4 151.2h0M165.6 154.9h0M173.0 156.7h0M161.8 152.5h0M157.2 154.7h0M170.1 152.7h0M159.5 156.7h0M172.7 156.4h0M163.1 157.3h0M160.7 152.1h0M163.4 159.1h0M166.1 159.1h0M156.5 154.5h0M172.0 156.7h0M168.1 154.6h0M168.1 160.8h0M168.1 152.4h0M170.7 159.3h0M159.0 154.2h0M169.4 159.0h0M165.9 161.3h0M166.9 157.3h0M171.7 158.7h0M163.9 162.8h0M162.8 155.8h0M159.9 155.9h0M160.0 153.4h0M170.9 155.1h0M162.9 153.1h0M164.2 155.0h0M172.4 156.9h0M171.7 154.9h0M172.0 158.9h0M166.7 161.3h0M167.5 155.9h0M170.3 156.4h0M168.9 156.2h0M161.4 155.9h0M162.9 161.2h0M167.3 156.7h0M160.1 154.4h0M158.4 154.0h0M164.0 153.4h0M165.3 161.0h0M169.3 160.2h0M160.8 159.8h0M163.9 161.1h0M159.0 157.1h0M164.7 153.6h0M164.1 156.4h0M170.5 151.9h0M157.3 155.7h0M160.2 155.7h0M164.5 153.9h0M164.4 154.3h0M162.4 156.1h0M153.8 155.0h0M151.8 155.5h0M155.0 155.5h0M154.0 155.2h0M155.1 155.5h0M158.4 162.2h0M158.2 162.8h0M156.9 172.9h0M157.2 160.7h0M157.0 161.3h0M159.3 161.0h0M159.3 165.1h0M157.0 167.0h0M161.3 167.2h0M155.4 162.8h0M154.9 167.9h0M160.8 158.6h0M155.9 159.5h0M157.9 171.1h0M155.0 171.0h0M156.9 166.3h0M158.4 172.8h0M161.1 173.5h0M158.3 173.1h0M159.9 166.9h0M158.4 162.6h0M155.0 165.0h0" stroke="#8a5cb8" stroke-width="1.40" stroke-linecap="round" fill="none"/>
<path d="M117.4 171.3h0M104.0 178.2h0M107.9 174.0h0M120.7 174.1h0M115.4 190.5h0M117.0 171.2h0M129.1 178.1h0M110.4 186.4h0M107.7 170.5h0M115.5 177.7h0M105.1 175.2h0M113.5 175.0h0M124.2 174.1h0M126.8 176.2h0M110.2 186.4h0M109.4 188.3h0M109.6 187.5h0M104.8 173.5h0M119.3 189.2h0M116.3 183.7h0M116.9 178.9h0M110.5 174.0h0M103.9 177.3h0M122.7 172.2h0M126.8 172.4h0M118.0 173.4h0M125.4 173.3h0M116.7 186.6h0M103.1 179.9h0M121.7 172.7h0M106.5 183.6h0M120.2 180.3h0M113.3 171.1h0M118.0 190.3h0M107.1 188.4h0M109.5 185.2h0M115.3 175.7h0M127.1 177.1h0M122.2 187.5h0M113.0 188.1h0M118.6 178.2h0M122.8 170.3h0M107.7 172.8h0M120.3 184.7h0M107.1 189.1h0M115.0 168.6h0M127.8 175.2h0M126.0 179.8h0M117.4 183.3h0M114.9 187.7h0M107.1 177.2h0M112.7 189.9h0M104.4 182.9h0M108.4 173.5h0M128.0 179.8h0M122.5 185.1h0M115.6 191.4h0M110.7 184.2h0M115.4 182.1h0M108.2 175.9h0M111.8 186.9h0M103.5 175.1h0M109.8 175.1h0M105.8 185.9h0M126.7 183.8h0M108.9 182.5h0M108.3 173.7h0M107.7 170.7h0M108.4 189.5h0M110.7 180.8h0M105.1 172.6h0M127.1 173.6h0M109.1 186.6h0M115.4 180.0h0M112.8 177.9h0M105.8 170.3h0M125.4 174.2h0M107.1 189.7h0M107.8 172.3h0M108.8 175.4h0M124.0 172.9h0M111.8 193.1h0M128.9 178.4h0M110.7 179.3h0M110.4 188.0h0M118.2 176.3h0M118.6 185.1h0M103.1 182.1h0M115.2 177.6h0M116.2 180.3h0M120.5 191.1h0M123.0 181.7h0M115.0 188.4h0M126.3 179.9h0M110.4 171.7h0M106.8 176.6h0M121.5 174.4h0M115.1 177.7h0M110.0 177.3h0M112.5 184.9h0M106.7 187.2h0M121.6 182.4h0M106.8 179.1h0M123.0 188.6h0M105.1 188.6h0M118.1 184.9h0M118.5 177.3h0M113.2 171.1h0M116.6 178.1h0M101.8 186.4h0M119.5 188.7h0M116.9 182.9h0M118.2 181.6h0M127.2 176.1h0M123.7 177.8h0M114.8 178.7h0M128.0 176.9h0M104.3 173.4h0M104.1 187.4h0M116.1 184.8h0M118.3 181.6h0M102.8 181.3h0M109.6 172.7h0M109.1 177.7h0M124.3 188.0h0M126.9 173.9h0M109.2 189.4h0M105.3 172.5h0M114.4 190.0h0M118.2 174.6h0M120.1 185.0h0M127.6 175.6h0M120.9 179.1h0M108.6 171.1h0M117.6 188.6h0M113.8 175.6h0M126.9 183.2h0M120.8 191.5h0M122.9 174.3h0M105.6 188.7h0M102.3 189.0h0M103.2 181.2h0M114.7 192.8h0M111.3 187.6h0M113.3 188.5h0M107.3 190.6h0M126.8 184.4h0M127.5 178.3h0M113.9 193.0h0M118.1 177.3h0M116.5 176.4h0M110.4 180.2h0M114.8 183.8h0M107.0 182.2h0M119.8 179.8h0M117.6 182.6h0M119.8 184.6h0M114.8 183.3h0M117.1 191.4h0M122.2 174.9h0M116.3 181.3h0M127.4 183.1h0M122.1 188.7h0M110.5 190.2h0M118.4 175.8h0M121.8 178.9h0M125.8 184.1h0M121.5 182.5h0M125.3 186.6h0M115.6 191.5h0M103.9 180.6h0M109.3 174.6h0M128.6 174.5h0M111.7 181.3h0M122.8 173.4h0M105.4 181.7h0M119.0 187.6h0M121.3 169.0h0M116.2 172.1h0M119.4 171.8h0M124.3 185.1h0M113.6 184.2h0M110.8 175.0h0M105.4 183.3h0M118.9 183.0h0M106.4 188.3h0M108.6 185.0h0M122.1 175.7h0M120.7 179.4h0M103.3 182.5h0M110.4 169.7h0M128.0 181.2h0M117.7 179.6h0M115.6 182.9h0M116.1 177.7h0M105.8 171.9h0M117.8 177.9h0M118.4 178.0h0M121.9 188.0h0M115.0 187.4h0M108.0 183.0h0M112.6 187.1h0M105.0 187.6h0M129.3 179.7h0M117.5 178.8h0M121.6 181.3h0M109.8 187.4h0M115.6 184.1h0M103.6 182.6h0M120.8 186.2h0M113.9 183.4h0M104.4 173.1h0M116.1 175.6h0M110.0 181.0h0M117.1 185.8h0M119.2 188.0h0M109.2 181.2h0M117.4 188.4h0M118.5 188.7h0M109.8 185.1h0M108.1 185.2h0M115.8 189.7h0M116.4 188.8h0M125.1 186.1h0M114.6 180.1h0M123.2 185.7h0M111.6 187.9h0M108.5 186.6h0M105.2 178.8h0M116.2 172.8h0M123.0 178.1h0M114.3 184.0h0M112.4 174.1h0M121.4 189.2h0M101.7 188.0h0M105.2 183.4h0M113.9 175.3h0M113.9 188.9h0M114.9 189.4h0M114.1 179.1h0M106.0 173.0h0M116.5 171.9h0M111.5 185.4h0M116.7 183.2h0M109.1 181.9h0M114.9 182.9h0M117.3 183.2h0M104.2 176.7h0M118.0 184.4h0M111.9 178.4h0M128.1 176.2h0M124.7 175.0h0M114.6 184.8h0M121.4 180.8h0M114.6 189.0h0M121.0 170.9h0M126.1 173.4h0M110.8 181.1h0M118.6 189.5h0M106.6 179.3h0M105.0 182.4h0M107.0 175.9h0M103.5 175.6h0M114.9 180.1h0M107.0 180.8h0M112.7 190.2h0M109.7 172.7h0M115.8 183.6h0M108.8 172.7h0M119.6 176.2h0M115.8 172.6h0M123.7 172.6h0M109.7 175.6h0M119.4 172.3h0M127.1 182.5h0M105.8 177.8h0M115.0 175.7h0M104.1 189.2h0M125.3 173.2h0M105.1 183.3h0M126.4 175.6h0M106.3 187.1h0M109.9 178.0h0M117.6 182.4h0M126.1 174.4h0M124.3 181.1h0M103.6 187.8h0M125.1 184.1h0M117.3 169.9h0M106.1 191.2h0M110.9 179.2h0M114.0 175.3h0M106.2 187.0h0M128.4 174.9h0M120.1 178.6h0M120.1 169.7h0M113.3 170.0h0M105.2 174.8h0M87.7 208.3h0M84.5 208.3h0M82.5 208.6h0M89.0 203.8h0M78.5 210.9h0M83.4 206.8h0M83.1 208.3h0M81.8 205.0h0M93.4 200.0h0M76.9 209.3h0M82.0 209.3h0M81.2 210.0h0M88.4 205.9h0M95.7 200.3h0M91.9 204.0h0M83.8 204.9h0M96.2 203.9h0M95.4 198.7h0M76.2 211.1h0M93.4 197.2h0M99.6 197.4h0M91.7 201.9h0" stroke="#e8821f" stroke-width="1.40" stroke-linecap="round" fill="none"/>
<path d="M103.2 180.7h0M89.1 169.5h0M91.2 178.2h0M95.4 172.3h0M101.9 181.7h0M88.8 183.3h0M92.5 169.5h0M96.7 175.8h0M91.2 173.5h0M94.6 175.0h0M98.8 186.3h0M96.3 187.6h0M95.1 182.5h0M97.1 176.0h0M86.6 181.1h0M86.6 177.4h0M94.7 177.8h0M86.0 173.2h0M100.3 184.5h0M89.3 173.8h0M92.8 177.8h0M99.3 180.0h0M92.4 168.1h0M100.4 181.0h0M86.1 175.7h0M101.2 177.9h0M99.9 187.7h0M98.1 178.3h0M104.0 181.2h0M86.7 173.5h0M94.3 175.9h0M91.7 175.7h0M87.6 179.4h0M95.8 173.2h0M95.1 171.5h0M93.0 166.5h0M97.7 183.2h0M90.9 174.9h0M98.6 186.9h0M87.4 182.6h0M88.5 177.6h0M95.3 183.6h0M95.4 172.2h0M87.5 171.9h0M86.9 168.7h0M101.9 184.7h0M87.1 175.3h0M104.1 183.5h0M99.1 180.4h0M97.3 183.6h0M92.1 174.7h0M97.5 167.1h0M99.6 179.4h0M90.0 179.6h0M91.3 174.0h0M98.1 177.9h0M94.6 167.4h0M104.5 180.4h0M97.9 170.5h0M103.4 172.9h0M104.1 179.2h0M98.5 185.9h0M91.5 185.2h0M97.9 167.9h0M94.9 179.5h0M87.5 181.7h0M98.4 176.7h0M87.0 176.0h0M95.8 169.1h0M87.5 175.7h0M89.6 174.1h0M100.7 183.8h0M101.6 180.2h0M97.8 182.7h0M100.5 181.4h0M103.3 171.3h0M101.7 174.8h0M96.9 173.8h0M93.1 175.2h0M102.1 182.6h0M100.0 180.5h0M92.0 169.8h0M93.9 171.4h0M98.7 186.7h0M86.2 182.0h0M92.1 165.7h0M90.9 180.8h0M92.3 165.7h0M99.3 172.2h0M101.4 185.7h0M86.6 172.7h0M96.3 188.0h0M89.9 168.9h0M92.0 172.4h0M93.1 185.7h0M96.8 175.4h0M98.6 168.5h0M86.2 172.3h0M85.8 181.0h0M94.8 183.7h0M89.3 172.7h0M87.1 178.2h0M100.6 184.7h0M89.9 179.2h0M95.0 183.5h0M95.3 172.5h0M88.4 180.5h0M95.5 188.0h0M100.2 184.5h0M96.6 180.6h0M88.4 170.3h0M100.9 171.5h0M85.6 173.6h0M90.4 173.3h0M88.5 182.6h0M101.2 169.4h0M90.2 183.9h0M96.5 178.9h0M97.0 172.1h0M96.5 179.4h0M98.2 184.0h0M94.6 171.3h0M94.6 173.8h0M90.9 186.1h0M99.4 185.9h0M98.7 181.5h0M102.1 178.7h0M91.9 183.6h0M85.1 174.5h0M86.0 181.0h0M94.0 183.7h0M91.3 165.9h0M101.4 175.8h0M102.9 171.3h0M93.1 171.9h0M102.8 174.9h0M97.2 179.9h0M90.1 181.9h0M87.2 173.8h0M92.1 176.2h0M90.8 180.0h0M91.2 172.9h0M91.2 176.4h0M105.0 180.2h0M92.2 177.4h0M87.0 173.5h0M89.5 179.8h0M98.8 179.2h0M94.0 170.2h0M99.3 171.1h0M87.0 173.8h0M96.2 175.8h0M91.9 166.5h0M93.7 181.0h0M99.5 170.0h0M94.0 173.1h0M93.4 180.4h0M103.1 171.8h0M90.4 180.1h0M101.2 185.4h0M97.4 179.4h0M91.2 170.1h0M96.2 186.6h0M92.8 185.3h0M91.8 167.3h0M102.8 171.4h0M94.9 186.9h0M96.3 176.4h0M97.8 181.0h0M89.9 167.3h0M93.2 174.1h0M98.4 182.9h0M86.8 182.2h0M104.1 177.8h0M87.7 169.6h0M96.9 167.4h0M87.2 172.1h0M89.6 178.7h0M88.6 181.9h0M91.9 179.4h0M90.8 165.4h0M91.8 171.5h0M90.0 184.5h0M91.6 172.4h0M90.2 168.2h0M101.5 179.1h0M92.3 167.1h0M98.6 175.6h0M87.0 182.6h0M103.7 182.2h0M99.2 182.7h0M91.6 178.7h0M94.0 169.8h0M89.1 168.7h0M87.4 177.5h0M95.6 169.6h0M100.8 183.8h0M90.6 176.6h0M90.5 163.9h0M96.3 178.9h0M89.1 176.8h0M88.2 173.7h0M104.7 176.3h0M101.7 182.0h0M92.2 183.5h0M97.8 170.9h0M96.7 177.8h0M94.8 184.2h0M100.8 178.1h0M86.8 179.0h0M96.5 181.0h0M86.8 171.8h0M91.5 176.5h0M103.9 177.0h0M102.9 185.1h0M93.6 170.7h0M100.9 175.8h0M104.6 175.2h0M93.4 167.6h0M93.2 171.9h0M86.7 174.2h0M104.4 180.3h0M96.5 178.3h0M95.0 177.0h0M96.6 166.5h0M93.4 178.4h0M104.6 178.8h0M102.7 172.6h0M96.8 169.9h0M96.7 168.6h0M94.8 168.7h0M103.7 184.9h0M98.0 171.1h0M90.7 164.4h0M104.0 179.3h0M101.5 181.5h0M100.1 187.3h0M102.0 173.9h0M89.6 176.6h0M89.5 172.9h0M86.6 187.2h0M80.4 189.9h0M80.0 187.5h0M85.3 182.0h0M83.7 185.7h0M84.8 191.3h0M82.1 188.3h0M83.5 188.1h0M80.6 186.4h0M81.7 192.4h0M81.2 188.9h0M84.0 192.9h0M79.0 188.5h0M83.3 184.8h0M82.2 189.2h0M88.4 187.5h0M80.7 186.1h0M85.2 193.0h0M82.9 186.1h0M82.5 186.0h0M79.7 190.0h0M80.6 191.6h0M83.8 191.9h0M79.3 190.3h0M80.4 187.1h0M87.6 187.5h0M84.2 186.2h0M82.1 189.5h0M84.9 193.4h0M82.0 180.8h0M82.2 182.7h0M83.5 181.9h0M79.9 188.4h0M84.8 181.3h0M80.7 190.8h0M85.8 186.9h0M82.2 192.8h0M86.7 185.0h0M79.9 189.2h0M89.0 186.1h0M88.4 186.1h0M82.5 184.6h0M87.2 187.4h0M83.1 182.1h0M82.0 193.6h0" stroke="#cc2629" stroke-width="1.40" stroke-linecap="round" fill="none"/>
<path d="M121.9 163.3h0M103.2 162.0h0M99.9 159.0h0M103.0 161.0h0M96.8 163.3h0M103.8 168.1h0M114.8 167.3h0M93.5 164.5h0M105.8 165.4h0M93.3 162.1h0M121.9 166.8h0M114.3 164.7h0M104.2 163.2h0M118.3 165.6h0M110.8 164.7h0M101.7 161.3h0M104.6 167.7h0M116.7 168.8h0M95.5 161.9h0M98.2 162.9h0M119.1 170.1h0M118.8 169.0h0M114.6 162.0h0M109.0 165.3h0M121.6 165.2h0M109.9 165.2h0M122.4 165.0h0M97.4 160.8h0M107.9 167.3h0M102.1 163.0h0M98.3 160.7h0M106.4 160.9h0M94.2 163.9h0M96.0 162.3h0M122.4 165.2h0M110.9 169.6h0M98.6 164.9h0M95.7 163.5h0M101.8 162.6h0M119.2 167.6h0M97.5 160.4h0M106.2 166.9h0M111.0 167.0h0M108.9 166.4h0M123.5 167.0h0M102.0 159.8h0M117.0 168.8h0M99.8 167.3h0M123.0 163.3h0M109.2 165.3h0M116.9 166.5h0M100.9 164.5h0M121.1 163.9h0M120.0 167.3h0M96.2 161.1h0M120.6 162.6h0M95.2 163.6h0M120.1 164.1h0M101.9 164.7h0M104.6 164.1h0M110.4 166.7h0M105.1 160.1h0M123.2 167.0h0M118.8 169.1h0M95.2 165.3h0M98.2 165.3h0M102.7 162.6h0M97.1 163.9h0M109.2 163.0h0M105.1 168.2h0M102.1 164.3h0M119.7 165.4h0M106.6 163.2h0M101.1 163.6h0M117.2 168.8h0M113.1 166.8h0M118.8 169.1h0M109.1 163.4h0M119.1 168.7h0M96.5 162.1h0M99.2 163.7h0M115.1 163.6h0M123.6 165.3h0M98.7 163.1h0M117.2 167.8h0M96.1 160.1h0M115.6 166.1h0M124.9 166.0h0M110.3 166.6h0M113.6 163.2h0" stroke="#d77fc6" stroke-width="1.40" stroke-linecap="round" fill="none"/>
<rect x="36" y="36.7" width="146.8" height="209.9" fill="none" stroke="#111" stroke-width="1.6"/>
<line x1="36.00" y1="141.50" x2="182.80" y2="141.50" stroke="#111" stroke-width="1.6"/>
<text x="42.70" y="50.30" font-size="8.3" textLength="17.30" lengthAdjust="spacingAndGlyphs">L1-C</text>
<text x="43.00" y="154.80" font-size="8.3" textLength="7.20" lengthAdjust="spacingAndGlyphs">L1</text>
<text x="30.40" y="155.10" font-size="11.5" textLength="27.00" lengthAdjust="spacingAndGlyphs" transform="rotate(-90 30.40 155.10)">UMAP2</text>
<text x="95.40" y="259.20" font-size="10.5" textLength="26.50" lengthAdjust="spacingAndGlyphs">UMAP1</text>
<text x="88.60" y="53.80" font-size="8.5">7</text>
<line x1="96.50" y1="51.50" x2="113.00" y2="58.50" stroke="#111" stroke-width="0.8"/>
<text x="69.20" y="72.00" font-size="8.5">4</text>
<line x1="76.00" y1="70.80" x2="90.50" y2="77.00" stroke="#111" stroke-width="0.8"/>
<text x="142.50" y="94.60" font-size="8.5">2</text>
<line x1="127.50" y1="79.00" x2="140.50" y2="90.50" stroke="#111" stroke-width="0.8"/>
<text x="142.50" y="47.30" font-size="8.5">5</text>
<line x1="148.50" y1="44.20" x2="164.50" y2="51.00" stroke="#111" stroke-width="0.8"/>
<text x="52.30" y="103.20" font-size="8.5">6</text>
<line x1="57.00" y1="101.00" x2="73.00" y2="107.00" stroke="#111" stroke-width="0.8"/>
<text x="112.00" y="111.00" font-size="8.5">1</text>
<line x1="110.50" y1="108.80" x2="95.50" y2="117.00" stroke="#111" stroke-width="0.8"/>
<text x="38.50" y="136.20" font-size="8.5">3</text>
<line x1="44.00" y1="133.00" x2="58.00" y2="126.00" stroke="#111" stroke-width="0.8"/>
<text x="114.60" y="133.50" font-size="8.5">8</text>
<line x1="112.50" y1="131.00" x2="100.00" y2="130.00" stroke="#111" stroke-width="0.8"/>
<text x="230.20" y="18.60" font-size="13.6" textLength="7.60" lengthAdjust="spacingAndGlyphs" font-weight="bold" fill="#000" stroke="#000" stroke-width="0.35">B</text>
<text x="269.60" y="26.40" font-size="10.2" textLength="168.50" lengthAdjust="spacingAndGlyphs">Functional profiling of L1-C clusters</text>
<text x="332.40" y="45.90" font-size="9.9" textLength="42.80" lengthAdjust="spacingAndGlyphs">-log10(P)</text>
<linearGradient id="gB" x1="0" x2="1" y1="0" y2="0"><stop offset="0" stop-color="#e4e4dc"/><stop offset="0.06" stop-color="#f2f0dc"/><stop offset="0.12" stop-color="#fff4c4"/><stop offset="0.2" stop-color="#f2cc64"/><stop offset="0.3" stop-color="#e6a440"/><stop offset="0.46" stop-color="#d88230"/><stop offset="0.62" stop-color="#c86a30"/><stop offset="0.8" stop-color="#b0552f"/><stop offset="1" stop-color="#8a3c28"/></linearGradient>
<rect x="307.90" y="51.70" width="91.60" height="12.80" fill="url(#gB)" stroke="#000" stroke-width="1.4"/>
<line x1="307.80" y1="64.70" x2="307.80" y2="68.20" stroke="#000" stroke-width="0.9"/>
<text x="307.80" y="78.80" font-size="8.6" text-anchor="middle">0</text>
<line x1="317.10" y1="64.70" x2="317.10" y2="68.20" stroke="#000" stroke-width="0.9"/>
<text x="317.10" y="78.80" font-size="8.6" text-anchor="middle">2</text>
<line x1="321.40" y1="64.70" x2="321.40" y2="68.20" stroke="#000" stroke-width="0.9"/>
<line x1="326.30" y1="64.70" x2="326.30" y2="68.20" stroke="#000" stroke-width="0.9"/>
<text x="326.30" y="78.80" font-size="8.6" text-anchor="middle">4</text>
<line x1="335.30" y1="64.70" x2="335.30" y2="68.20" stroke="#000" stroke-width="0.9"/>
<text x="335.30" y="78.80" font-size="8.6" text-anchor="middle">6</text>
<line x1="353.50" y1="64.70" x2="353.50" y2="68.20" stroke="#000" stroke-width="0.9"/>
<text x="353.50" y="78.80" font-size="8.6" text-anchor="middle">10</text>
<line x1="399.40" y1="64.70" x2="399.40" y2="68.20" stroke="#000" stroke-width="0.9"/>
<text x="399.40" y="78.80" font-size="8.6" text-anchor="middle">12</text>
<rect x="242.00" y="88.30" width="54.40" height="178.40" fill="#d8d8d8"/>
<rect x="255.60" y="88.30" width="13.60" height="9.37" fill="#b25a2e"/>
<text x="300.00" y="94.90" font-size="9.4" textLength="95.00" lengthAdjust="spacingAndGlyphs">nuclear DNA replication</text>
<rect x="255.60" y="97.22" width="13.60" height="9.37" fill="#de9535"/>
<text x="300.00" y="103.82" font-size="9.4" textLength="188.50" lengthAdjust="spacingAndGlyphs">Reg. of transcription involved in G1/S transition</text>
<rect x="242.00" y="106.14" width="13.60" height="9.37" fill="#e9b84e"/>
<rect x="255.60" y="106.14" width="13.60" height="8.92" fill="#cf7530"/>
<rect x="269.20" y="106.14" width="13.60" height="8.92" fill="#fbf1c2"/>
<text x="300.00" y="112.74" font-size="9.4" textLength="138.20" lengthAdjust="spacingAndGlyphs">G1/S transition of mitotic cell cycle</text>
<rect x="242.00" y="115.06" width="13.60" height="9.37" fill="#e3a23e"/>
<text x="300.00" y="121.66" font-size="9.4" textLength="98.90" lengthAdjust="spacingAndGlyphs">kinetochore organization</text>
<rect x="242.00" y="123.98" width="13.60" height="9.37" fill="#e3a23e"/>
<text x="300.00" y="130.58" font-size="9.4" textLength="136.10" lengthAdjust="spacingAndGlyphs">protein localization to kinetochore</text>
<rect x="242.00" y="132.90" width="13.60" height="9.37" fill="#d07530"/>
<text x="300.00" y="139.50" font-size="9.4" textLength="184.50" lengthAdjust="spacingAndGlyphs">positive reg. of ubiquitin protein ligase activity</text>
<rect x="242.00" y="141.82" width="13.60" height="9.37" fill="#d07530"/>
<text x="300.00" y="148.42" font-size="9.4" textLength="148.50" lengthAdjust="spacingAndGlyphs">mitotic nuclear envelope disassembly</text>
<rect x="242.00" y="150.74" width="13.60" height="9.37" fill="#be5c2c"/>
<text x="300.00" y="157.34" font-size="9.4" textLength="63.00" lengthAdjust="spacingAndGlyphs">DNA packaging</text>
<rect x="242.00" y="159.66" width="13.60" height="9.37" fill="#be5c2c"/>
<text x="300.00" y="166.26" font-size="9.4" textLength="67.70" lengthAdjust="spacingAndGlyphs">meiotic cell cycle</text>
<rect x="242.00" y="168.58" width="13.60" height="9.37" fill="#8a3a28"/>
<text x="300.00" y="175.18" font-size="9.4" textLength="46.20" lengthAdjust="spacingAndGlyphs">cell division</text>
<rect x="242.00" y="177.50" width="13.60" height="8.92" fill="#efc45a"/>
<rect x="282.80" y="177.50" width="13.60" height="9.37" fill="#f5dc8a"/>
<text x="300.00" y="184.10" font-size="9.4" textLength="84.00" lengthAdjust="spacingAndGlyphs">organelle localization</text>
<rect x="269.20" y="186.42" width="13.60" height="9.37" fill="#f2d070"/>
<rect x="282.80" y="186.42" width="13.60" height="9.37" fill="#dd8830"/>
<text x="300.00" y="193.02" font-size="9.4" textLength="146.20" lengthAdjust="spacingAndGlyphs">integrin-mediated signaling pathway</text>
<rect x="269.20" y="195.34" width="13.60" height="9.37" fill="#e5a540"/>
<rect x="282.80" y="195.34" width="13.60" height="9.37" fill="#cc6a2a"/>
<text x="300.00" y="201.94" font-size="9.4" textLength="82.20" lengthAdjust="spacingAndGlyphs">regulated exocytosis</text>
<rect x="269.20" y="204.26" width="13.60" height="9.37" fill="#f0c660"/>
<rect x="282.80" y="204.26" width="13.60" height="9.37" fill="#e5a540"/>
<text x="300.00" y="210.86" font-size="9.4" textLength="89.20" lengthAdjust="spacingAndGlyphs">response to wounding</text>
<rect x="269.20" y="213.18" width="13.60" height="8.92" fill="#faf0c0"/>
<rect x="282.80" y="213.18" width="13.60" height="9.37" fill="#edc058"/>
<text x="300.00" y="219.78" font-size="9.4" textLength="137.80" lengthAdjust="spacingAndGlyphs">cellular response to biotic stimulus</text>
<rect x="282.80" y="222.10" width="13.60" height="8.92" fill="#d57528"/>
<text x="300.00" y="228.70" font-size="9.4" textLength="88.30" lengthAdjust="spacingAndGlyphs">platelet degranulation</text>
<rect x="269.20" y="231.02" width="13.60" height="9.37" fill="#dd8830"/>
<text x="300.00" y="237.62" font-size="9.4" textLength="169.80" lengthAdjust="spacingAndGlyphs">response to topologically incorrect protein</text>
<rect x="269.20" y="239.94" width="13.60" height="9.37" fill="#dd8830"/>
<text x="300.00" y="246.54" font-size="9.4" textLength="140.90" lengthAdjust="spacingAndGlyphs">regulation of lymphocyte activation</text>
<rect x="269.20" y="248.86" width="13.60" height="9.37" fill="#e09838"/>
<text x="300.00" y="255.46" font-size="9.4" textLength="149.20" lengthAdjust="spacingAndGlyphs">regulation of interleukin-6 production</text>
<rect x="255.60" y="257.78" width="13.60" height="8.92" fill="#fbf5d0"/>
<rect x="269.20" y="257.78" width="13.60" height="8.92" fill="#f7e8a8"/>
<text x="300.00" y="264.38" font-size="9.4" textLength="163.10" lengthAdjust="spacingAndGlyphs">nucleoside phosphate metabolic process</text>
<text x="248.80" y="276.00" font-size="8.8" text-anchor="middle">3</text>
<text x="262.40" y="276.00" font-size="8.8" text-anchor="middle">1</text>
<text x="276.00" y="276.00" font-size="8.8" text-anchor="middle">4</text>
<text x="289.60" y="276.00" font-size="8.8" text-anchor="middle">7</text>
<text x="254.40" y="290.60" font-size="10.5" textLength="29.70" lengthAdjust="spacingAndGlyphs">Clusters</text>
<text x="136.00" y="321.20" font-size="14.0" textLength="8.10" lengthAdjust="spacingAndGlyphs" font-weight="bold" fill="#000" stroke="#000" stroke-width="0.35">C</text>
<text x="160.00" y="322.20" font-size="10.3" textLength="213.60" lengthAdjust="spacingAndGlyphs">Functional enrichment of L1 vs. L1-C clusters</text>
<text x="256.30" y="337.50" font-size="9.9" textLength="42.70" lengthAdjust="spacingAndGlyphs">-log10(P)</text>
<linearGradient id="gC" x1="0" x2="1" y1="0" y2="0"><stop offset="0" stop-color="#e4e4dc"/><stop offset="0.06" stop-color="#f2f0dc"/><stop offset="0.12" stop-color="#fff4c4"/><stop offset="0.2" stop-color="#f2cc64"/><stop offset="0.3" stop-color="#e6a440"/><stop offset="0.46" stop-color="#d88230"/><stop offset="0.62" stop-color="#c86a30"/><stop offset="0.8" stop-color="#b0552f"/><stop offset="1" stop-color="#8a3c28"/></linearGradient>
<rect x="231.50" y="343.90" width="91.60" height="12.80" fill="url(#gC)" stroke="#000" stroke-width="1.4"/>
<line x1="231.40" y1="356.90" x2="231.40" y2="360.40" stroke="#000" stroke-width="0.9"/>
<text x="231.40" y="371.00" font-size="8.6" text-anchor="middle">0</text>
<line x1="240.70" y1="356.90" x2="240.70" y2="360.40" stroke="#000" stroke-width="0.9"/>
<text x="240.70" y="371.00" font-size="8.6" text-anchor="middle">2</text>
<line x1="245.00" y1="356.90" x2="245.00" y2="360.40" stroke="#000" stroke-width="0.9"/>
<line x1="249.90" y1="356.90" x2="249.90" y2="360.40" stroke="#000" stroke-width="0.9"/>
<text x="249.90" y="371.00" font-size="8.6" text-anchor="middle">4</text>
<line x1="258.90" y1="356.90" x2="258.90" y2="360.40" stroke="#000" stroke-width="0.9"/>
<text x="258.90" y="371.00" font-size="8.6" text-anchor="middle">6</text>
<line x1="277.10" y1="356.90" x2="277.10" y2="360.40" stroke="#000" stroke-width="0.9"/>
<text x="277.10" y="371.00" font-size="8.6" text-anchor="middle">10</text>
<line x1="323.00" y1="356.90" x2="323.00" y2="360.40" stroke="#000" stroke-width="0.9"/>
<text x="323.00" y="371.00" font-size="8.6" text-anchor="middle">12</text>
<rect x="155.60" y="377.40" width="60.20" height="79.52" fill="#d8d8d8"/>
<rect x="200.75" y="377.40" width="15.05" height="11.36" fill="#faf0c0"/>
<text x="221.20" y="387.30" font-size="9.3" textLength="156.50" lengthAdjust="spacingAndGlyphs">regulation of cellular response to stress</text>
<rect x="185.70" y="388.76" width="15.05" height="11.36" fill="#faf0c0"/>
<text x="221.20" y="398.23" font-size="9.3" textLength="148.80" lengthAdjust="spacingAndGlyphs">cytokine-mediated signaling pathway</text>
<rect x="155.60" y="400.12" width="15.05" height="11.81" fill="#edc060"/>
<text x="221.20" y="409.16" font-size="9.3" textLength="88.30" lengthAdjust="spacingAndGlyphs">platelet degranulation</text>
<rect x="155.60" y="411.48" width="15.05" height="11.81" fill="#f2d585"/>
<text x="221.20" y="420.09" font-size="9.3" textLength="93.10" lengthAdjust="spacingAndGlyphs">organic anion transport</text>
<rect x="155.60" y="422.84" width="15.05" height="11.81" fill="#f8eab5"/>
<text x="221.20" y="431.02" font-size="9.3" textLength="72.70" lengthAdjust="spacingAndGlyphs">blood coagulation</text>
<rect x="155.60" y="434.20" width="15.05" height="11.81" fill="#f4dc95"/>
<text x="221.20" y="441.95" font-size="9.3" textLength="123.60" lengthAdjust="spacingAndGlyphs">homeostasis of number of cells</text>
<rect x="155.60" y="445.56" width="15.05" height="11.36" fill="#faf0c8"/>
<rect x="170.65" y="445.56" width="15.05" height="11.36" fill="#edc060"/>
<text x="221.20" y="452.88" font-size="9.3" textLength="148.50" lengthAdjust="spacingAndGlyphs">positive regulation of GTPase activity</text>
<text x="163.12" y="466.80" font-size="8.8" text-anchor="middle">4</text>
<text x="178.18" y="466.80" font-size="8.8" text-anchor="middle">3</text>
<text x="193.22" y="466.80" font-size="8.8" text-anchor="middle">1</text>
<text x="208.28" y="466.80" font-size="8.8" text-anchor="middle">7</text>
<text x="171.00" y="481.50" font-size="10.5" textLength="29.30" lengthAdjust="spacingAndGlyphs">Clusters</text>
<text x="8.40" y="504.80" font-size="13.2" textLength="8.50" lengthAdjust="spacingAndGlyphs" font-weight="bold" fill="#000" stroke="#000" stroke-width="0.35">D</text>
<line x1="52.60" y1="515.20" x2="52.60" y2="662.30" stroke="#111" stroke-width="1.5"/>
<line x1="51.85" y1="662.30" x2="252.60" y2="662.30" stroke="#111" stroke-width="1.5"/>
<line x1="49.30" y1="654.50" x2="52.60" y2="654.50" stroke="#111" stroke-width="1.1"/>
<text x="46.10" y="657.70" font-size="9.2" text-anchor="end">0</text>
<line x1="49.30" y1="620.50" x2="52.60" y2="620.50" stroke="#111" stroke-width="1.1"/>
<text x="46.10" y="623.70" font-size="9.2" text-anchor="end">5</text>
<line x1="49.30" y1="586.50" x2="52.60" y2="586.50" stroke="#111" stroke-width="1.1"/>
<text x="46.10" y="589.70" font-size="9.2" text-anchor="end">10</text>
<line x1="49.30" y1="552.50" x2="52.60" y2="552.50" stroke="#111" stroke-width="1.1"/>
<text x="46.10" y="555.70" font-size="9.2" text-anchor="end">15</text>
<line x1="49.30" y1="518.50" x2="52.60" y2="518.50" stroke="#111" stroke-width="1.1"/>
<text x="46.10" y="521.70" font-size="9.2" text-anchor="end">20</text>
<line x1="57.80" y1="662.30" x2="57.80" y2="665.40" stroke="#111" stroke-width="1.1"/>
<text x="58.10" y="677.10" font-size="8.8" text-anchor="middle">-2</text>
<line x1="104.20" y1="662.30" x2="104.20" y2="665.40" stroke="#111" stroke-width="1.1"/>
<text x="104.50" y="677.10" font-size="8.8" text-anchor="middle">-1</text>
<line x1="150.60" y1="662.30" x2="150.60" y2="665.40" stroke="#111" stroke-width="1.1"/>
<text x="150.60" y="677.10" font-size="8.8" text-anchor="middle">0</text>
<line x1="197.00" y1="662.30" x2="197.00" y2="665.40" stroke="#111" stroke-width="1.1"/>
<text x="197.00" y="677.10" font-size="8.8" text-anchor="middle">1</text>
<line x1="243.40" y1="662.30" x2="243.40" y2="665.40" stroke="#111" stroke-width="1.1"/>
<text x="243.40" y="677.10" font-size="8.8" text-anchor="middle">2</text>
<text x="30.40" y="589.20" font-size="10.2" textLength="53.80" lengthAdjust="spacingAndGlyphs" text-anchor="middle" transform="rotate(-90 30.40 589.20)">-log10 P value</text>
<text x="120.70" y="691.90" font-size="11.0" textLength="63.60" lengthAdjust="spacingAndGlyphs">Log2 fold change</text>
<text x="101.80" y="505.90" font-size="10.8" textLength="100.90" lengthAdjust="spacingAndGlyphs">DE genes L1-C vs. L1</text>
<rect x="67.00" y="513.10" width="34.00" height="12.80" fill="#d98c7c"/>
<text x="68.30" y="522.20" font-size="8.8" textLength="31.40" lengthAdjust="spacingAndGlyphs">L1-C up</text>
<rect x="193.00" y="513.10" width="33.90" height="12.90" fill="#c45a55"/>
<text x="198.60" y="522.30" font-size="8.8" textLength="22.00" lengthAdjust="spacingAndGlyphs">L1 up</text>
<path d="M121.4 644.8 Q151 660.8 181.2 644.0 L181.6 645.8 Q151 667.2 121.4 646.6 Z" fill="#8f9bcb"/>
<path d="M180.6 645.2 L189.6 637.4" stroke="#c93658" stroke-width="2.3" fill="none" stroke-linecap="round"/>
<line x1="121.40" y1="513.30" x2="121.40" y2="661.50" stroke="#333" stroke-width="1.0" stroke-dasharray="3 1.6"/>
<line x1="173.40" y1="513.30" x2="173.40" y2="661.50" stroke="#333" stroke-width="1.0" stroke-dasharray="3 1.6"/>
<line x1="53.40" y1="646.00" x2="252.60" y2="646.00" stroke="#555" stroke-width="0.95" stroke-dasharray="3 1.6"/>
<line x1="76.20" y1="588.50" x2="90.30" y2="599.70" stroke="#3a4a70" stroke-width="0.55"/>
<line x1="95.50" y1="623.50" x2="107.50" y2="629.70" stroke="#3a4a70" stroke-width="0.55"/>
<line x1="104.60" y1="622.30" x2="113.30" y2="636.20" stroke="#3a4a70" stroke-width="0.55"/>
<line x1="109.50" y1="637.50" x2="113.50" y2="636.50" stroke="#3a4a70" stroke-width="0.55"/>
<line x1="121.60" y1="627.70" x2="120.40" y2="639.00" stroke="#3a4a70" stroke-width="0.55"/>
<line x1="128.00" y1="633.00" x2="121.50" y2="643.00" stroke="#3a4a70" stroke-width="0.55"/>
<line x1="188.60" y1="622.40" x2="187.70" y2="638.80" stroke="#3a4a70" stroke-width="0.55"/>
<line x1="192.30" y1="628.70" x2="189.60" y2="637.70" stroke="#3a4a70" stroke-width="0.55"/>
<line x1="200.70" y1="621.90" x2="197.00" y2="628.70" stroke="#3a4a70" stroke-width="0.55"/>
<line x1="180.10" y1="628.70" x2="186.40" y2="638.80" stroke="#3a4a70" stroke-width="0.55"/>
<line x1="178.00" y1="634.00" x2="185.40" y2="639.90" stroke="#3a4a70" stroke-width="0.55"/>
<line x1="170.00" y1="639.50" x2="183.80" y2="641.40" stroke="#3a4a70" stroke-width="0.55"/>
<line x1="182.70" y1="645.70" x2="189.00" y2="649.90" stroke="#3a4a70" stroke-width="0.55"/>
<line x1="181.70" y1="646.20" x2="187.00" y2="655.70" stroke="#3a4a70" stroke-width="0.55"/>
<line x1="193.80" y1="634.00" x2="200.70" y2="637.20" stroke="#3a4a70" stroke-width="0.55"/>
<line x1="212.00" y1="601.00" x2="214.40" y2="605.50" stroke="#3a4a70" stroke-width="0.55"/>
<circle cx="62.8" cy="532.3" r="1.25" fill="#c93658"/>
<circle cx="73.4" cy="567.4" r="1.25" fill="#c93658"/>
<circle cx="81.5" cy="584.3" r="1.25" fill="#c93658"/>
<circle cx="83.5" cy="596.3" r="1.25" fill="#c93658"/>
<circle cx="90.3" cy="600.8" r="1.25" fill="#c93658"/>
<circle cx="85.7" cy="610.0" r="1.25" fill="#c93658"/>
<circle cx="107.7" cy="629.7" r="1.25" fill="#c93658"/>
<circle cx="113.6" cy="636.4" r="1.25" fill="#c93658"/>
<circle cx="116.5" cy="641.0" r="1.25" fill="#c93658"/>
<circle cx="120.0" cy="643.8" r="1.25" fill="#c93658"/>
<circle cx="227.6" cy="584.2" r="1.25" fill="#c93658"/>
<circle cx="219.0" cy="597.4" r="1.25" fill="#c93658"/>
<circle cx="215.4" cy="602.3" r="1.25" fill="#c93658"/>
<circle cx="214.4" cy="606.5" r="1.25" fill="#c93658"/>
<circle cx="209.9" cy="613.8" r="1.25" fill="#c93658"/>
<circle cx="205.7" cy="618.6" r="1.25" fill="#c93658"/>
<circle cx="196.5" cy="629.5" r="1.25" fill="#c93658"/>
<circle cx="193.7" cy="633.7" r="1.25" fill="#c93658"/>
<text x="59.50" y="541.20" font-size="8.2" textLength="19.40" lengthAdjust="spacingAndGlyphs" font-style="italic">HBG2</text>
<text x="76.50" y="571.50" font-size="8.2" textLength="18.90" lengthAdjust="spacingAndGlyphs" font-style="italic">HBG1</text>
<text x="56.20" y="590.50" font-size="8.2" textLength="18.10" lengthAdjust="spacingAndGlyphs" font-style="italic">GYPA</text>
<text x="93.10" y="604.60" font-size="8.2" textLength="13.50" lengthAdjust="spacingAndGlyphs" font-style="italic">GAL</text>
<text x="64.20" y="614.60" font-size="8.2" textLength="18.40" lengthAdjust="spacingAndGlyphs" font-style="italic">HBA2</text>
<text x="100.00" y="620.50" font-size="8.2" textLength="15.40" lengthAdjust="spacingAndGlyphs" font-style="italic">MYC</text>
<text x="73.80" y="625.40" font-size="8.2" textLength="20.00" lengthAdjust="spacingAndGlyphs" font-style="italic">BLVRB</text>
<text x="87.70" y="639.20" font-size="8.2" textLength="20.50" lengthAdjust="spacingAndGlyphs" font-style="italic">BNIP3</text>
<text x="123.40" y="625.10" font-size="8.2" textLength="23.60" lengthAdjust="spacingAndGlyphs" font-style="italic">MGST3</text>
<text x="128.60" y="636.70" font-size="8.2" textLength="16.70" lengthAdjust="spacingAndGlyphs" font-style="italic">PPA1</text>
<text x="157.10" y="641.50" font-size="8.2" textLength="11.80" lengthAdjust="spacingAndGlyphs" font-style="italic">MIF</text>
<text x="164.90" y="632.90" font-size="8.2" textLength="12.10" lengthAdjust="spacingAndGlyphs" font-style="italic">LXN</text>
<text x="171.30" y="625.70" font-size="8.2" textLength="16.10" lengthAdjust="spacingAndGlyphs" font-style="italic">KLF6</text>
<text x="216.30" y="593.00" font-size="8.2" textLength="24.10" lengthAdjust="spacingAndGlyphs" font-style="italic">GNG11</text>
<text x="220.30" y="604.30" font-size="8.2" textLength="17.90" lengthAdjust="spacingAndGlyphs" font-style="italic">CD24</text>
<text x="184.30" y="600.70" font-size="8.2" textLength="28.70" lengthAdjust="spacingAndGlyphs" font-style="italic">SAMSN1</text>
<text x="191.00" y="611.60" font-size="8.2" textLength="20.70" lengthAdjust="spacingAndGlyphs" font-style="italic">STOM</text>
<text x="187.00" y="619.70" font-size="8.2" textLength="16.80" lengthAdjust="spacingAndGlyphs" font-style="italic">DLK1</text>
<text x="202.00" y="630.70" font-size="8.2" textLength="19.20" lengthAdjust="spacingAndGlyphs" font-style="italic">LIMS1</text>
<text x="203.00" y="637.20" font-size="8.2" textLength="37.00" lengthAdjust="spacingAndGlyphs" font-style="italic">ARHGAP18</text>
<text x="190.10" y="648.90" font-size="8.2" textLength="21.10" lengthAdjust="spacingAndGlyphs" font-style="italic">ITM2B</text>
<text x="187.40" y="658.60" font-size="8.2" textLength="21.60" lengthAdjust="spacingAndGlyphs" font-style="italic">TGFB1</text>
<text x="270.90" y="504.60" font-size="13.2" textLength="7.20" lengthAdjust="spacingAndGlyphs" font-weight="bold" fill="#000" stroke="#000" stroke-width="0.35">E</text>
<line x1="313.80" y1="515.20" x2="313.80" y2="662.30" stroke="#111" stroke-width="1.5"/>
<line x1="313.05" y1="662.30" x2="512.40" y2="662.30" stroke="#111" stroke-width="1.5"/>
<line x1="310.50" y1="654.60" x2="313.80" y2="654.60" stroke="#111" stroke-width="1.1"/>
<text x="307.30" y="657.80" font-size="9.2" text-anchor="end">0</text>
<line x1="310.50" y1="620.85" x2="313.80" y2="620.85" stroke="#111" stroke-width="1.1"/>
<text x="307.30" y="624.05" font-size="9.2" text-anchor="end">5</text>
<line x1="310.50" y1="587.10" x2="313.80" y2="587.10" stroke="#111" stroke-width="1.1"/>
<text x="307.30" y="590.30" font-size="9.2" text-anchor="end">10</text>
<line x1="310.50" y1="553.35" x2="313.80" y2="553.35" stroke="#111" stroke-width="1.1"/>
<text x="307.30" y="556.55" font-size="9.2" text-anchor="end">15</text>
<line x1="310.50" y1="519.60" x2="313.80" y2="519.60" stroke="#111" stroke-width="1.1"/>
<text x="307.30" y="522.80" font-size="9.2" text-anchor="end">20</text>
<line x1="323.00" y1="662.30" x2="323.00" y2="665.40" stroke="#111" stroke-width="1.1"/>
<text x="323.30" y="677.10" font-size="8.8" text-anchor="middle">-2</text>
<line x1="368.10" y1="662.30" x2="368.10" y2="665.40" stroke="#111" stroke-width="1.1"/>
<text x="368.40" y="677.10" font-size="8.8" text-anchor="middle">-1</text>
<line x1="413.20" y1="662.30" x2="413.20" y2="665.40" stroke="#111" stroke-width="1.1"/>
<text x="413.20" y="677.10" font-size="8.8" text-anchor="middle">0</text>
<line x1="458.30" y1="662.30" x2="458.30" y2="665.40" stroke="#111" stroke-width="1.1"/>
<text x="458.30" y="677.10" font-size="8.8" text-anchor="middle">1</text>
<line x1="503.40" y1="662.30" x2="503.40" y2="665.40" stroke="#111" stroke-width="1.1"/>
<text x="503.40" y="677.10" font-size="8.8" text-anchor="middle">2</text>
<text x="291.60" y="589.20" font-size="10.2" textLength="53.80" lengthAdjust="spacingAndGlyphs" text-anchor="middle" transform="rotate(-90 291.60 589.20)">-log10 P value</text>
<text x="381.40" y="691.90" font-size="11.0" textLength="63.60" lengthAdjust="spacingAndGlyphs">Log2 fold change</text>
<text x="346.20" y="505.90" font-size="10.8" textLength="133.60" lengthAdjust="spacingAndGlyphs">Mk/Plt DE genes L1-C vs. L1</text>
<rect x="332.30" y="513.10" width="33.90" height="12.80" fill="#d98c7c"/>
<text x="333.60" y="522.20" font-size="8.8" textLength="31.30" lengthAdjust="spacingAndGlyphs">L1-C up</text>
<rect x="457.20" y="513.10" width="33.70" height="12.90" fill="#c45a55"/>
<text x="462.80" y="522.30" font-size="8.8" textLength="22.00" lengthAdjust="spacingAndGlyphs">L1 up</text>
<path d="M384.8 644.9 Q413.2 660.2 441.6 644.6 L441.9 646.4 Q413.2 666.2 384.8 646.7 Z" fill="#8f9bcb"/>
<path d="M441.6 645.4 L450.6 638.5" stroke="#c93658" stroke-width="2.3" fill="none" stroke-linecap="round"/>
<line x1="384.80" y1="513.30" x2="384.80" y2="661.50" stroke="#333" stroke-width="1.0" stroke-dasharray="3 1.6"/>
<line x1="435.30" y1="513.30" x2="435.30" y2="661.50" stroke="#333" stroke-width="1.0" stroke-dasharray="3 1.6"/>
<line x1="314.60" y1="646.00" x2="512.40" y2="646.00" stroke="#555" stroke-width="0.95" stroke-dasharray="3 1.6"/>
<line x1="425.50" y1="643.50" x2="432.50" y2="649.50" stroke="#3a4a70" stroke-width="0.55"/>
<line x1="441.00" y1="640.50" x2="444.50" y2="644.00" stroke="#3a4a70" stroke-width="0.55"/>
<line x1="455.50" y1="636.00" x2="452.00" y2="639.00" stroke="#3a4a70" stroke-width="0.55"/>
<line x1="433.80" y1="652.00" x2="436.00" y2="656.00" stroke="#3a4a70" stroke-width="0.55"/>
<line x1="436.50" y1="656.00" x2="441.00" y2="654.00" stroke="#3a4a70" stroke-width="0.55"/>
<line x1="420.00" y1="650.50" x2="427.00" y2="652.50" stroke="#3a4a70" stroke-width="0.55"/>
<circle cx="327.4" cy="533.5" r="1.15" fill="none" stroke="#b3223e" stroke-width="0.95"/>
<circle cx="337.8" cy="568.2" r="1.15" fill="none" stroke="#b3223e" stroke-width="0.95"/>
<circle cx="345.5" cy="585.1" r="1.15" fill="none" stroke="#b3223e" stroke-width="0.95"/>
<circle cx="347.7" cy="596.4" r="1.15" fill="none" stroke="#b3223e" stroke-width="0.95"/>
<circle cx="354.3" cy="601.1" r="1.35" fill="#c93658"/>
<circle cx="349.5" cy="610.3" r="1.15" fill="none" stroke="#b3223e" stroke-width="0.95"/>
<circle cx="371.2" cy="629.7" r="1.35" fill="#c93658"/>
<circle cx="376.6" cy="636.9" r="1.35" fill="#c93658"/>
<circle cx="380.0" cy="640.8" r="1.15" fill="none" stroke="#b3223e" stroke-width="0.95"/>
<circle cx="381.8" cy="642.3" r="1.35" fill="#c93658"/>
<circle cx="383.8" cy="643.8" r="1.15" fill="none" stroke="#b3223e" stroke-width="0.95"/>
<circle cx="487.7" cy="585.2" r="1.15" fill="none" stroke="#b3223e" stroke-width="0.95"/>
<circle cx="480.0" cy="597.3" r="1.15" fill="none" stroke="#b3223e" stroke-width="0.95"/>
<circle cx="476.5" cy="602.5" r="1.15" fill="none" stroke="#b3223e" stroke-width="0.95"/>
<circle cx="475.3" cy="606.3" r="1.15" fill="none" stroke="#b3223e" stroke-width="0.95"/>
<circle cx="470.6" cy="614.1" r="1.15" fill="none" stroke="#b3223e" stroke-width="0.95"/>
<circle cx="466.6" cy="619.3" r="1.15" fill="none" stroke="#b3223e" stroke-width="0.95"/>
<circle cx="458.0" cy="629.7" r="1.35" fill="#c93658"/>
<circle cx="455.0" cy="633.7" r="1.15" fill="none" stroke="#b3223e" stroke-width="0.95"/>
<text x="424.20" y="639.20" font-size="8.2" textLength="26.80" lengthAdjust="spacingAndGlyphs" font-style="italic">FERMT3</text>
<text x="457.60" y="637.50" font-size="8.2" textLength="21.10" lengthAdjust="spacingAndGlyphs" font-style="italic">TGFB1</text>
<text x="403.10" y="646.20" font-size="8.2" textLength="24.60" lengthAdjust="spacingAndGlyphs" font-style="italic">STXBP2</text>
<text x="407.30" y="653.10" font-size="8.2" textLength="10.90" lengthAdjust="spacingAndGlyphs" font-style="italic">PF4</text>
<text x="386.70" y="660.90" font-size="8.2" textLength="22.50" lengthAdjust="spacingAndGlyphs" font-style="italic">GATA1</text>
<text x="418.70" y="660.90" font-size="8.2" textLength="14.20" lengthAdjust="spacingAndGlyphs" font-style="italic">B2M</text>
<text x="439.50" y="660.90" font-size="8.2" textLength="24.50" lengthAdjust="spacingAndGlyphs" font-style="italic">ITGA2B</text>
</svg>
</body></html>
